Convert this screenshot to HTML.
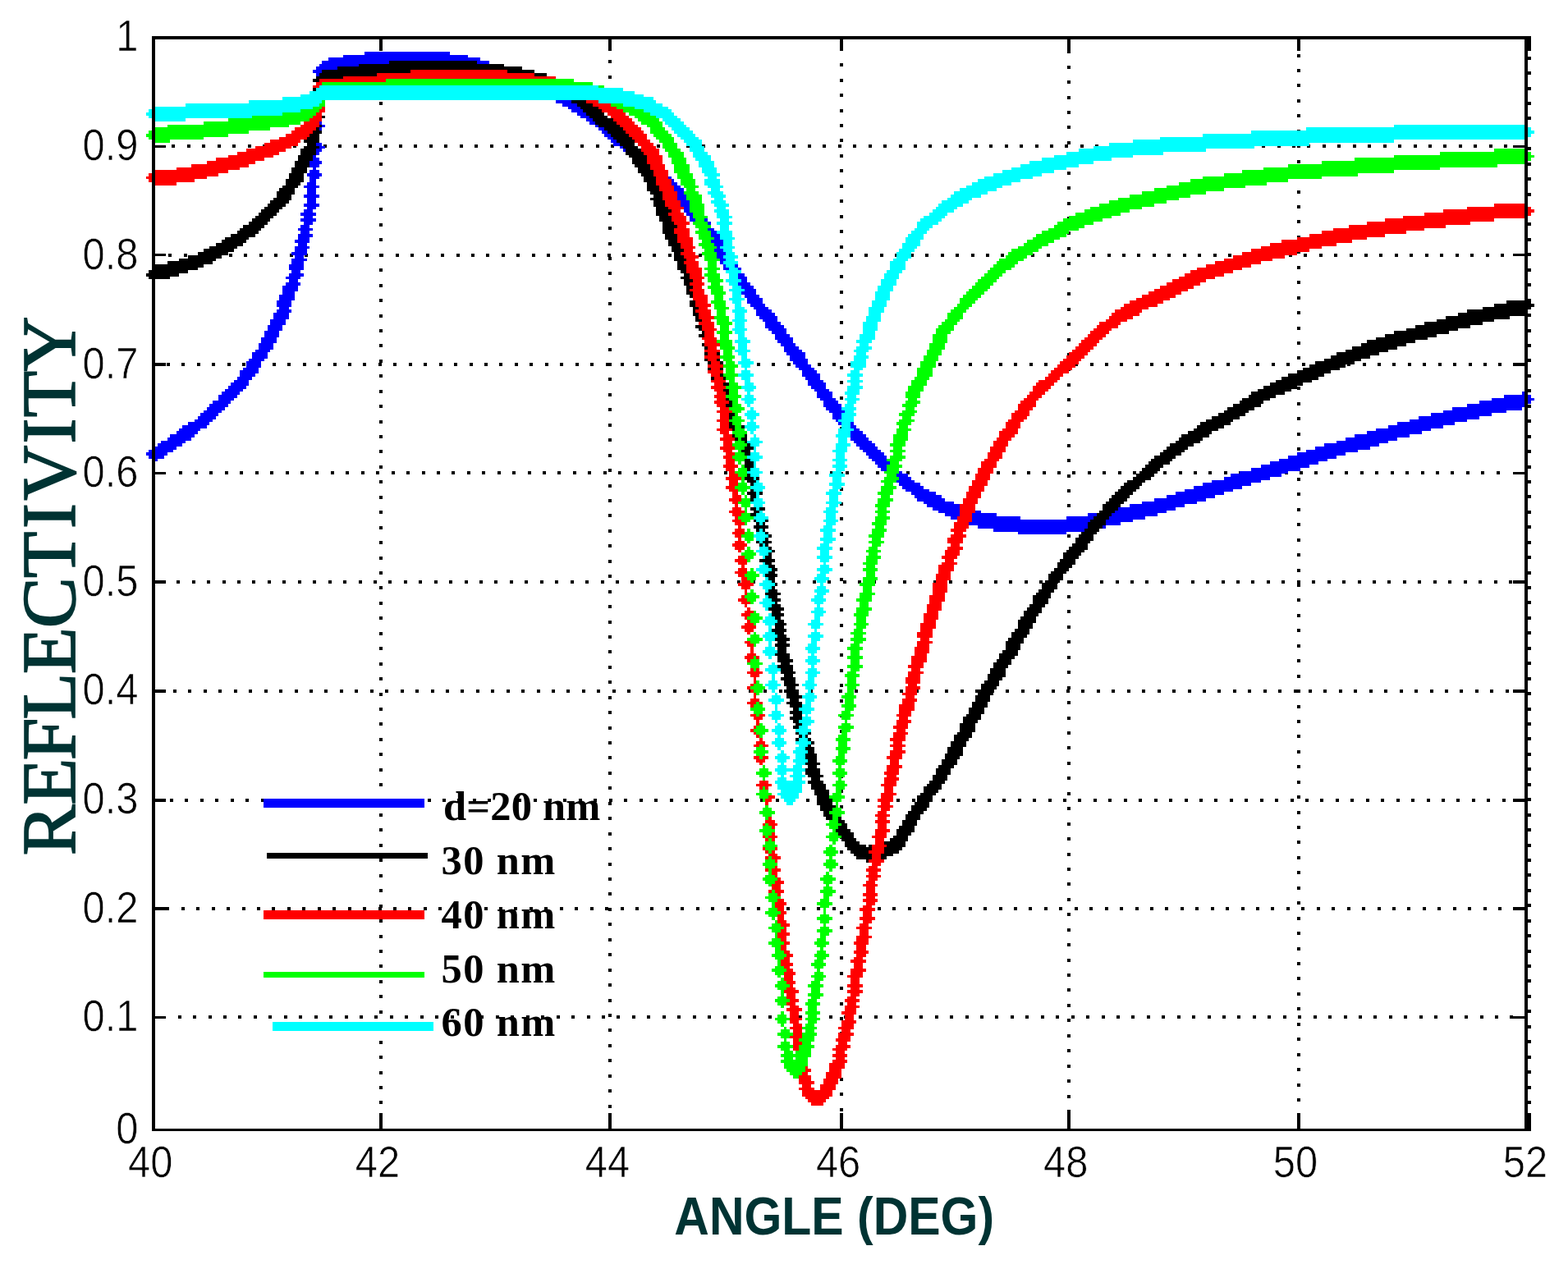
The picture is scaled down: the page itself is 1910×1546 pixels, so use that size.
<!DOCTYPE html>
<html lang="en"><head><meta charset="utf-8"><title>Reflectivity vs angle</title>
<style>html,body{margin:0;padding:0;background:#fff;overflow:hidden}svg{display:block}text{font-family:"Liberation Sans",sans-serif}.tk{font-size:54.0px;fill:#000;stroke:#fff;stroke-width:0.7px}.lg{font-family:"Liberation Serif",serif;font-weight:bold;font-size:50.5px;fill:#000}.xl{font-weight:bold;font-size:65.0px;fill:#003333}.yl{font-family:"Liberation Serif",serif;font-size:93.0px;fill:#003333;stroke:#003333;stroke-width:1.6px;stroke-linejoin:miter}</style></head><body>
<svg width="1910" height="1546" viewBox="0 0 1910 1546" role="img" aria-label="Reflectivity versus angle for metal film thickness d = 20 to 60 nm">
<rect width="1910" height="1546" fill="#fff"/>
<path shape-rendering="crispEdges" fill="#000" d="M461.5 69.0h4v4h-4zM461.5 87.4h4v4h-4zM461.5 105.9h4v4h-4zM461.5 124.3h4v4h-4zM461.5 142.8h4v4h-4zM461.5 161.2h4v4h-4zM461.5 179.6h4v4h-4zM461.5 198.1h4v4h-4zM461.5 216.5h4v4h-4zM461.5 235.0h4v4h-4zM461.5 253.4h4v4h-4zM461.5 271.8h4v4h-4zM461.5 290.3h4v4h-4zM461.5 308.7h4v4h-4zM461.5 327.2h4v4h-4zM461.5 345.6h4v4h-4zM461.5 364.0h4v4h-4zM461.5 382.5h4v4h-4zM461.5 400.9h4v4h-4zM461.5 419.4h4v4h-4zM461.5 437.8h4v4h-4zM461.5 456.2h4v4h-4zM461.5 474.7h4v4h-4zM461.5 493.1h4v4h-4zM461.5 511.6h4v4h-4zM461.5 530.0h4v4h-4zM461.5 548.4h4v4h-4zM461.5 566.9h4v4h-4zM461.5 585.3h4v4h-4zM461.5 603.8h4v4h-4zM461.5 622.2h4v4h-4zM461.5 640.6h4v4h-4zM461.5 659.1h4v4h-4zM461.5 677.5h4v4h-4zM461.5 696.0h4v4h-4zM461.5 714.4h4v4h-4zM461.5 732.8h4v4h-4zM461.5 751.3h4v4h-4zM461.5 769.7h4v4h-4zM461.5 788.2h4v4h-4zM461.5 806.6h4v4h-4zM461.5 825.0h4v4h-4zM461.5 843.5h4v4h-4zM461.5 861.9h4v4h-4zM461.5 880.4h4v4h-4zM461.5 898.8h4v4h-4zM461.5 917.2h4v4h-4zM461.5 935.7h4v4h-4zM461.5 954.1h4v4h-4zM461.5 972.6h4v4h-4zM461.5 991.0h4v4h-4zM461.5 1009.4h4v4h-4zM461.5 1027.9h4v4h-4zM461.5 1046.3h4v4h-4zM461.5 1064.8h4v4h-4zM461.5 1083.2h4v4h-4zM461.5 1101.6h4v4h-4zM461.5 1120.1h4v4h-4zM461.5 1138.5h4v4h-4zM461.5 1157.0h4v4h-4zM461.5 1175.4h4v4h-4zM461.5 1193.8h4v4h-4zM461.5 1212.3h4v4h-4zM461.5 1230.7h4v4h-4zM461.5 1249.2h4v4h-4zM461.5 1267.6h4v4h-4zM461.5 1286.0h4v4h-4zM461.5 1304.5h4v4h-4zM461.5 1322.9h4v4h-4zM461.5 1341.4h4v4h-4zM741.4 73.2h4v4h-4zM741.4 91.6h4v4h-4zM741.4 110.1h4v4h-4zM741.4 128.5h4v4h-4zM741.4 147.0h4v4h-4zM741.4 165.4h4v4h-4zM741.4 183.8h4v4h-4zM741.4 202.3h4v4h-4zM741.4 220.7h4v4h-4zM741.4 239.2h4v4h-4zM741.4 257.6h4v4h-4zM741.4 276.0h4v4h-4zM741.4 294.5h4v4h-4zM741.4 312.9h4v4h-4zM741.4 331.4h4v4h-4zM741.4 349.8h4v4h-4zM741.4 368.2h4v4h-4zM741.4 386.7h4v4h-4zM741.4 405.1h4v4h-4zM741.4 423.6h4v4h-4zM741.4 442.0h4v4h-4zM741.4 460.4h4v4h-4zM741.4 478.9h4v4h-4zM741.4 497.3h4v4h-4zM741.4 515.8h4v4h-4zM741.4 534.2h4v4h-4zM741.4 552.6h4v4h-4zM741.4 571.1h4v4h-4zM741.4 589.5h4v4h-4zM741.4 608.0h4v4h-4zM741.4 626.4h4v4h-4zM741.4 644.8h4v4h-4zM741.4 663.3h4v4h-4zM741.4 681.7h4v4h-4zM741.4 700.2h4v4h-4zM741.4 718.6h4v4h-4zM741.4 737.0h4v4h-4zM741.4 755.5h4v4h-4zM741.4 773.9h4v4h-4zM741.4 792.4h4v4h-4zM741.4 810.8h4v4h-4zM741.4 829.2h4v4h-4zM741.4 847.7h4v4h-4zM741.4 866.1h4v4h-4zM741.4 884.6h4v4h-4zM741.4 903.0h4v4h-4zM741.4 921.4h4v4h-4zM741.4 939.9h4v4h-4zM741.4 958.3h4v4h-4zM741.4 976.8h4v4h-4zM741.4 995.2h4v4h-4zM741.4 1013.6h4v4h-4zM741.4 1032.1h4v4h-4zM741.4 1050.5h4v4h-4zM741.4 1069.0h4v4h-4zM741.4 1087.4h4v4h-4zM741.4 1105.8h4v4h-4zM741.4 1124.3h4v4h-4zM741.4 1142.7h4v4h-4zM741.4 1161.2h4v4h-4zM741.4 1179.6h4v4h-4zM741.4 1198.0h4v4h-4zM741.4 1216.5h4v4h-4zM741.4 1234.9h4v4h-4zM741.4 1253.4h4v4h-4zM741.4 1271.8h4v4h-4zM741.4 1290.2h4v4h-4zM741.4 1308.7h4v4h-4zM741.4 1327.1h4v4h-4zM741.4 1345.6h4v4h-4zM1022.6 77.2h4v4h-4zM1022.6 95.6h4v4h-4zM1022.6 114.1h4v4h-4zM1022.6 132.5h4v4h-4zM1022.6 151.0h4v4h-4zM1022.6 169.4h4v4h-4zM1022.6 187.8h4v4h-4zM1022.6 206.3h4v4h-4zM1022.6 224.7h4v4h-4zM1022.6 243.2h4v4h-4zM1022.6 261.6h4v4h-4zM1022.6 280.0h4v4h-4zM1022.6 298.5h4v4h-4zM1022.6 316.9h4v4h-4zM1022.6 335.4h4v4h-4zM1022.6 353.8h4v4h-4zM1022.6 372.2h4v4h-4zM1022.6 390.7h4v4h-4zM1022.6 409.1h4v4h-4zM1022.6 427.6h4v4h-4zM1022.6 446.0h4v4h-4zM1022.6 464.4h4v4h-4zM1022.6 482.9h4v4h-4zM1022.6 501.3h4v4h-4zM1022.6 519.8h4v4h-4zM1022.6 538.2h4v4h-4zM1022.6 556.6h4v4h-4zM1022.6 575.1h4v4h-4zM1022.6 593.5h4v4h-4zM1022.6 612.0h4v4h-4zM1022.6 630.4h4v4h-4zM1022.6 648.8h4v4h-4zM1022.6 667.3h4v4h-4zM1022.6 685.7h4v4h-4zM1022.6 704.2h4v4h-4zM1022.6 722.6h4v4h-4zM1022.6 741.0h4v4h-4zM1022.6 759.5h4v4h-4zM1022.6 777.9h4v4h-4zM1022.6 796.4h4v4h-4zM1022.6 814.8h4v4h-4zM1022.6 833.2h4v4h-4zM1022.6 851.7h4v4h-4zM1022.6 870.1h4v4h-4zM1022.6 888.6h4v4h-4zM1022.6 907.0h4v4h-4zM1022.6 925.4h4v4h-4zM1022.6 943.9h4v4h-4zM1022.6 962.3h4v4h-4zM1022.6 980.8h4v4h-4zM1022.6 999.2h4v4h-4zM1022.6 1017.6h4v4h-4zM1022.6 1036.1h4v4h-4zM1022.6 1054.5h4v4h-4zM1022.6 1073.0h4v4h-4zM1022.6 1091.4h4v4h-4zM1022.6 1109.8h4v4h-4zM1022.6 1128.3h4v4h-4zM1022.6 1146.7h4v4h-4zM1022.6 1165.2h4v4h-4zM1022.6 1183.6h4v4h-4zM1022.6 1202.0h4v4h-4zM1022.6 1220.5h4v4h-4zM1022.6 1238.9h4v4h-4zM1022.6 1257.4h4v4h-4zM1022.6 1275.8h4v4h-4zM1022.6 1294.2h4v4h-4zM1022.6 1312.7h4v4h-4zM1022.6 1331.1h4v4h-4zM1022.6 1349.6h4v4h-4zM1299.7 61.2h4v4h-4zM1299.7 79.6h4v4h-4zM1299.7 98.0h4v4h-4zM1299.7 116.5h4v4h-4zM1299.7 134.9h4v4h-4zM1299.7 153.4h4v4h-4zM1299.7 171.8h4v4h-4zM1299.7 190.2h4v4h-4zM1299.7 208.7h4v4h-4zM1299.7 227.1h4v4h-4zM1299.7 245.6h4v4h-4zM1299.7 264.0h4v4h-4zM1299.7 282.4h4v4h-4zM1299.7 300.9h4v4h-4zM1299.7 319.3h4v4h-4zM1299.7 337.8h4v4h-4zM1299.7 356.2h4v4h-4zM1299.7 374.6h4v4h-4zM1299.7 393.1h4v4h-4zM1299.7 411.5h4v4h-4zM1299.7 430.0h4v4h-4zM1299.7 448.4h4v4h-4zM1299.7 466.8h4v4h-4zM1299.7 485.3h4v4h-4zM1299.7 503.7h4v4h-4zM1299.7 522.2h4v4h-4zM1299.7 540.6h4v4h-4zM1299.7 559.0h4v4h-4zM1299.7 577.5h4v4h-4zM1299.7 595.9h4v4h-4zM1299.7 614.4h4v4h-4zM1299.7 632.8h4v4h-4zM1299.7 651.2h4v4h-4zM1299.7 669.7h4v4h-4zM1299.7 688.1h4v4h-4zM1299.7 706.6h4v4h-4zM1299.7 725.0h4v4h-4zM1299.7 743.4h4v4h-4zM1299.7 761.9h4v4h-4zM1299.7 780.3h4v4h-4zM1299.7 798.8h4v4h-4zM1299.7 817.2h4v4h-4zM1299.7 835.6h4v4h-4zM1299.7 854.1h4v4h-4zM1299.7 872.5h4v4h-4zM1299.7 891.0h4v4h-4zM1299.7 909.4h4v4h-4zM1299.7 927.8h4v4h-4zM1299.7 946.3h4v4h-4zM1299.7 964.7h4v4h-4zM1299.7 983.2h4v4h-4zM1299.7 1001.6h4v4h-4zM1299.7 1020.0h4v4h-4zM1299.7 1038.5h4v4h-4zM1299.7 1056.9h4v4h-4zM1299.7 1075.4h4v4h-4zM1299.7 1093.8h4v4h-4zM1299.7 1112.2h4v4h-4zM1299.7 1130.7h4v4h-4zM1299.7 1149.1h4v4h-4zM1299.7 1167.6h4v4h-4zM1299.7 1186.0h4v4h-4zM1299.7 1204.4h4v4h-4zM1299.7 1222.9h4v4h-4zM1299.7 1241.3h4v4h-4zM1299.7 1259.8h4v4h-4zM1299.7 1278.2h4v4h-4zM1299.7 1296.6h4v4h-4zM1299.7 1315.1h4v4h-4zM1299.7 1333.5h4v4h-4zM1299.7 1352.0h4v4h-4zM1579.5 65.6h4v4h-4zM1579.5 84.0h4v4h-4zM1579.5 102.4h4v4h-4zM1579.5 120.9h4v4h-4zM1579.5 139.3h4v4h-4zM1579.5 157.8h4v4h-4zM1579.5 176.2h4v4h-4zM1579.5 194.6h4v4h-4zM1579.5 213.1h4v4h-4zM1579.5 231.5h4v4h-4zM1579.5 250.0h4v4h-4zM1579.5 268.4h4v4h-4zM1579.5 286.8h4v4h-4zM1579.5 305.3h4v4h-4zM1579.5 323.7h4v4h-4zM1579.5 342.2h4v4h-4zM1579.5 360.6h4v4h-4zM1579.5 379.0h4v4h-4zM1579.5 397.5h4v4h-4zM1579.5 415.9h4v4h-4zM1579.5 434.4h4v4h-4zM1579.5 452.8h4v4h-4zM1579.5 471.2h4v4h-4zM1579.5 489.7h4v4h-4zM1579.5 508.1h4v4h-4zM1579.5 526.6h4v4h-4zM1579.5 545.0h4v4h-4zM1579.5 563.4h4v4h-4zM1579.5 581.9h4v4h-4zM1579.5 600.3h4v4h-4zM1579.5 618.8h4v4h-4zM1579.5 637.2h4v4h-4zM1579.5 655.6h4v4h-4zM1579.5 674.1h4v4h-4zM1579.5 692.5h4v4h-4zM1579.5 711.0h4v4h-4zM1579.5 729.4h4v4h-4zM1579.5 747.8h4v4h-4zM1579.5 766.3h4v4h-4zM1579.5 784.7h4v4h-4zM1579.5 803.2h4v4h-4zM1579.5 821.6h4v4h-4zM1579.5 840.0h4v4h-4zM1579.5 858.5h4v4h-4zM1579.5 876.9h4v4h-4zM1579.5 895.4h4v4h-4zM1579.5 913.8h4v4h-4zM1579.5 932.2h4v4h-4zM1579.5 950.7h4v4h-4zM1579.5 969.1h4v4h-4zM1579.5 987.6h4v4h-4zM1579.5 1006.0h4v4h-4zM1579.5 1024.4h4v4h-4zM1579.5 1042.9h4v4h-4zM1579.5 1061.3h4v4h-4zM1579.5 1079.8h4v4h-4zM1579.5 1098.2h4v4h-4zM1579.5 1116.6h4v4h-4zM1579.5 1135.1h4v4h-4zM1579.5 1153.5h4v4h-4zM1579.5 1172.0h4v4h-4zM1579.5 1190.4h4v4h-4zM1579.5 1208.8h4v4h-4zM1579.5 1227.3h4v4h-4zM1579.5 1245.7h4v4h-4zM1579.5 1264.2h4v4h-4zM1579.5 1282.6h4v4h-4zM1579.5 1301.0h4v4h-4zM1579.5 1319.5h4v4h-4zM1579.5 1337.9h4v4h-4zM1860.8 68.6h4v4h-4zM1860.8 87.0h4v4h-4zM1860.8 105.5h4v4h-4zM1860.8 123.9h4v4h-4zM1860.8 142.4h4v4h-4zM1860.8 160.8h4v4h-4zM1860.8 179.2h4v4h-4zM1860.8 197.7h4v4h-4zM1860.8 216.1h4v4h-4zM1860.8 234.6h4v4h-4zM1860.8 253.0h4v4h-4zM1860.8 271.4h4v4h-4zM1860.8 289.9h4v4h-4zM1860.8 308.3h4v4h-4zM1860.8 326.8h4v4h-4zM1860.8 345.2h4v4h-4zM1860.8 363.6h4v4h-4zM1860.8 382.1h4v4h-4zM1860.8 400.5h4v4h-4zM1860.8 419.0h4v4h-4zM1860.8 437.4h4v4h-4zM1860.8 455.8h4v4h-4zM1860.8 474.3h4v4h-4zM1860.8 492.7h4v4h-4zM1860.8 511.2h4v4h-4zM1860.8 529.6h4v4h-4zM1860.8 548.0h4v4h-4zM1860.8 566.5h4v4h-4zM1860.8 584.9h4v4h-4zM1860.8 603.4h4v4h-4zM1860.8 621.8h4v4h-4zM1860.8 640.2h4v4h-4zM1860.8 658.7h4v4h-4zM1860.8 677.1h4v4h-4zM1860.8 695.6h4v4h-4zM1860.8 714.0h4v4h-4zM1860.8 732.4h4v4h-4zM1860.8 750.9h4v4h-4zM1860.8 769.3h4v4h-4zM1860.8 787.8h4v4h-4zM1860.8 806.2h4v4h-4zM1860.8 824.6h4v4h-4zM1860.8 843.1h4v4h-4zM1860.8 861.5h4v4h-4zM1860.8 880.0h4v4h-4zM1860.8 898.4h4v4h-4zM1860.8 916.8h4v4h-4zM1860.8 935.3h4v4h-4zM1860.8 953.7h4v4h-4zM1860.8 972.2h4v4h-4zM1860.8 990.6h4v4h-4zM1860.8 1009.0h4v4h-4zM1860.8 1027.5h4v4h-4zM1860.8 1045.9h4v4h-4zM1860.8 1064.4h4v4h-4zM1860.8 1082.8h4v4h-4zM1860.8 1101.2h4v4h-4zM1860.8 1119.7h4v4h-4zM1860.8 1138.1h4v4h-4zM1860.8 1156.6h4v4h-4zM1860.8 1175.0h4v4h-4zM1860.8 1193.4h4v4h-4zM1860.8 1211.9h4v4h-4zM1860.8 1230.3h4v4h-4zM1860.8 1248.8h4v4h-4zM1860.8 1267.2h4v4h-4zM1860.8 1285.6h4v4h-4zM1860.8 1304.1h4v4h-4zM1860.8 1322.5h4v4h-4zM1860.8 1341.0h4v4h-4zM216.6 1237.4h4v4h-4zM235.1 1237.4h4v4h-4zM253.5 1237.4h4v4h-4zM272.0 1237.4h4v4h-4zM290.4 1237.4h4v4h-4zM308.8 1237.4h4v4h-4zM327.3 1237.4h4v4h-4zM345.7 1237.4h4v4h-4zM364.2 1237.4h4v4h-4zM382.6 1237.4h4v4h-4zM401.0 1237.4h4v4h-4zM419.5 1237.4h4v4h-4zM437.9 1237.4h4v4h-4zM456.4 1237.4h4v4h-4zM474.8 1237.4h4v4h-4zM493.2 1237.4h4v4h-4zM511.7 1237.4h4v4h-4zM530.1 1237.4h4v4h-4zM548.6 1237.4h4v4h-4zM567.0 1237.4h4v4h-4zM585.4 1237.4h4v4h-4zM603.9 1237.4h4v4h-4zM622.3 1237.4h4v4h-4zM640.8 1237.4h4v4h-4zM659.2 1237.4h4v4h-4zM677.6 1237.4h4v4h-4zM696.1 1237.4h4v4h-4zM714.5 1237.4h4v4h-4zM733.0 1237.4h4v4h-4zM751.4 1237.4h4v4h-4zM769.8 1237.4h4v4h-4zM788.3 1237.4h4v4h-4zM806.7 1237.4h4v4h-4zM825.2 1237.4h4v4h-4zM843.6 1237.4h4v4h-4zM862.0 1237.4h4v4h-4zM880.5 1237.4h4v4h-4zM898.9 1237.4h4v4h-4zM917.4 1237.4h4v4h-4zM935.8 1237.4h4v4h-4zM954.2 1237.4h4v4h-4zM972.7 1237.4h4v4h-4zM991.1 1237.4h4v4h-4zM1009.6 1237.4h4v4h-4zM1028.0 1237.4h4v4h-4zM1046.4 1237.4h4v4h-4zM1064.9 1237.4h4v4h-4zM1083.3 1237.4h4v4h-4zM1101.8 1237.4h4v4h-4zM1120.2 1237.4h4v4h-4zM1138.6 1237.4h4v4h-4zM1157.1 1237.4h4v4h-4zM1175.5 1237.4h4v4h-4zM1194.0 1237.4h4v4h-4zM1212.4 1237.4h4v4h-4zM1230.8 1237.4h4v4h-4zM1249.3 1237.4h4v4h-4zM1267.7 1237.4h4v4h-4zM1286.2 1237.4h4v4h-4zM1304.6 1237.4h4v4h-4zM1323.0 1237.4h4v4h-4zM1341.5 1237.4h4v4h-4zM1359.9 1237.4h4v4h-4zM1378.4 1237.4h4v4h-4zM1396.8 1237.4h4v4h-4zM1415.2 1237.4h4v4h-4zM1433.7 1237.4h4v4h-4zM1452.1 1237.4h4v4h-4zM1470.6 1237.4h4v4h-4zM1489.0 1237.4h4v4h-4zM1507.4 1237.4h4v4h-4zM1525.9 1237.4h4v4h-4zM1544.3 1237.4h4v4h-4zM1562.8 1237.4h4v4h-4zM1581.2 1237.4h4v4h-4zM1599.6 1237.4h4v4h-4zM1618.1 1237.4h4v4h-4zM1636.5 1237.4h4v4h-4zM1655.0 1237.4h4v4h-4zM1673.4 1237.4h4v4h-4zM1691.8 1237.4h4v4h-4zM1710.3 1237.4h4v4h-4zM1728.7 1237.4h4v4h-4zM1747.2 1237.4h4v4h-4zM1765.6 1237.4h4v4h-4zM1784.0 1237.4h4v4h-4zM1802.5 1237.4h4v4h-4zM1820.9 1237.4h4v4h-4zM1839.4 1237.4h4v4h-4zM202.3 1104.7h4v4h-4zM220.7 1104.7h4v4h-4zM239.2 1104.7h4v4h-4zM257.6 1104.7h4v4h-4zM276.1 1104.7h4v4h-4zM294.5 1104.7h4v4h-4zM312.9 1104.7h4v4h-4zM331.4 1104.7h4v4h-4zM349.8 1104.7h4v4h-4zM368.3 1104.7h4v4h-4zM386.7 1104.7h4v4h-4zM405.1 1104.7h4v4h-4zM423.6 1104.7h4v4h-4zM442.0 1104.7h4v4h-4zM460.5 1104.7h4v4h-4zM478.9 1104.7h4v4h-4zM497.3 1104.7h4v4h-4zM515.8 1104.7h4v4h-4zM534.2 1104.7h4v4h-4zM552.7 1104.7h4v4h-4zM571.1 1104.7h4v4h-4zM589.5 1104.7h4v4h-4zM608.0 1104.7h4v4h-4zM626.4 1104.7h4v4h-4zM644.9 1104.7h4v4h-4zM663.3 1104.7h4v4h-4zM681.7 1104.7h4v4h-4zM700.2 1104.7h4v4h-4zM718.6 1104.7h4v4h-4zM737.1 1104.7h4v4h-4zM755.5 1104.7h4v4h-4zM773.9 1104.7h4v4h-4zM792.4 1104.7h4v4h-4zM810.8 1104.7h4v4h-4zM829.3 1104.7h4v4h-4zM847.7 1104.7h4v4h-4zM866.1 1104.7h4v4h-4zM884.6 1104.7h4v4h-4zM903.0 1104.7h4v4h-4zM921.5 1104.7h4v4h-4zM939.9 1104.7h4v4h-4zM958.3 1104.7h4v4h-4zM976.8 1104.7h4v4h-4zM995.2 1104.7h4v4h-4zM1013.7 1104.7h4v4h-4zM1032.1 1104.7h4v4h-4zM1050.5 1104.7h4v4h-4zM1069.0 1104.7h4v4h-4zM1087.4 1104.7h4v4h-4zM1105.9 1104.7h4v4h-4zM1124.3 1104.7h4v4h-4zM1142.7 1104.7h4v4h-4zM1161.2 1104.7h4v4h-4zM1179.6 1104.7h4v4h-4zM1198.1 1104.7h4v4h-4zM1216.5 1104.7h4v4h-4zM1234.9 1104.7h4v4h-4zM1253.4 1104.7h4v4h-4zM1271.8 1104.7h4v4h-4zM1290.3 1104.7h4v4h-4zM1308.7 1104.7h4v4h-4zM1327.1 1104.7h4v4h-4zM1345.6 1104.7h4v4h-4zM1364.0 1104.7h4v4h-4zM1382.5 1104.7h4v4h-4zM1400.9 1104.7h4v4h-4zM1419.3 1104.7h4v4h-4zM1437.8 1104.7h4v4h-4zM1456.2 1104.7h4v4h-4zM1474.7 1104.7h4v4h-4zM1493.1 1104.7h4v4h-4zM1511.5 1104.7h4v4h-4zM1530.0 1104.7h4v4h-4zM1548.4 1104.7h4v4h-4zM1566.9 1104.7h4v4h-4zM1585.3 1104.7h4v4h-4zM1603.7 1104.7h4v4h-4zM1622.2 1104.7h4v4h-4zM1640.6 1104.7h4v4h-4zM1659.1 1104.7h4v4h-4zM1677.5 1104.7h4v4h-4zM1695.9 1104.7h4v4h-4zM1714.4 1104.7h4v4h-4zM1732.8 1104.7h4v4h-4zM1751.3 1104.7h4v4h-4zM1769.7 1104.7h4v4h-4zM1788.1 1104.7h4v4h-4zM1806.6 1104.7h4v4h-4zM1825.0 1104.7h4v4h-4zM207.0 972.6h4v4h-4zM225.4 972.6h4v4h-4zM243.9 972.6h4v4h-4zM262.3 972.6h4v4h-4zM280.8 972.6h4v4h-4zM299.2 972.6h4v4h-4zM317.6 972.6h4v4h-4zM336.1 972.6h4v4h-4zM354.5 972.6h4v4h-4zM373.0 972.6h4v4h-4zM391.4 972.6h4v4h-4zM409.8 972.6h4v4h-4zM428.3 972.6h4v4h-4zM446.7 972.6h4v4h-4zM465.2 972.6h4v4h-4zM483.6 972.6h4v4h-4zM502.0 972.6h4v4h-4zM520.5 972.6h4v4h-4zM538.9 972.6h4v4h-4zM557.4 972.6h4v4h-4zM575.8 972.6h4v4h-4zM594.2 972.6h4v4h-4zM612.7 972.6h4v4h-4zM631.1 972.6h4v4h-4zM649.6 972.6h4v4h-4zM668.0 972.6h4v4h-4zM686.4 972.6h4v4h-4zM704.9 972.6h4v4h-4zM723.3 972.6h4v4h-4zM741.8 972.6h4v4h-4zM760.2 972.6h4v4h-4zM778.6 972.6h4v4h-4zM797.1 972.6h4v4h-4zM815.5 972.6h4v4h-4zM834.0 972.6h4v4h-4zM852.4 972.6h4v4h-4zM870.8 972.6h4v4h-4zM889.3 972.6h4v4h-4zM907.7 972.6h4v4h-4zM926.2 972.6h4v4h-4zM944.6 972.6h4v4h-4zM963.0 972.6h4v4h-4zM981.5 972.6h4v4h-4zM999.9 972.6h4v4h-4zM1018.4 972.6h4v4h-4zM1036.8 972.6h4v4h-4zM1055.2 972.6h4v4h-4zM1073.7 972.6h4v4h-4zM1092.1 972.6h4v4h-4zM1110.6 972.6h4v4h-4zM1129.0 972.6h4v4h-4zM1147.4 972.6h4v4h-4zM1165.9 972.6h4v4h-4zM1184.3 972.6h4v4h-4zM1202.8 972.6h4v4h-4zM1221.2 972.6h4v4h-4zM1239.6 972.6h4v4h-4zM1258.1 972.6h4v4h-4zM1276.5 972.6h4v4h-4zM1295.0 972.6h4v4h-4zM1313.4 972.6h4v4h-4zM1331.8 972.6h4v4h-4zM1350.3 972.6h4v4h-4zM1368.7 972.6h4v4h-4zM1387.2 972.6h4v4h-4zM1405.6 972.6h4v4h-4zM1424.0 972.6h4v4h-4zM1442.5 972.6h4v4h-4zM1460.9 972.6h4v4h-4zM1479.4 972.6h4v4h-4zM1497.8 972.6h4v4h-4zM1516.2 972.6h4v4h-4zM1534.7 972.6h4v4h-4zM1553.1 972.6h4v4h-4zM1571.6 972.6h4v4h-4zM1590.0 972.6h4v4h-4zM1608.4 972.6h4v4h-4zM1626.9 972.6h4v4h-4zM1645.3 972.6h4v4h-4zM1663.8 972.6h4v4h-4zM1682.2 972.6h4v4h-4zM1700.6 972.6h4v4h-4zM1719.1 972.6h4v4h-4zM1737.5 972.6h4v4h-4zM1756.0 972.6h4v4h-4zM1774.4 972.6h4v4h-4zM1792.8 972.6h4v4h-4zM1811.3 972.6h4v4h-4zM1829.7 972.6h4v4h-4zM211.0 839.5h4v4h-4zM229.4 839.5h4v4h-4zM247.9 839.5h4v4h-4zM266.3 839.5h4v4h-4zM284.8 839.5h4v4h-4zM303.2 839.5h4v4h-4zM321.6 839.5h4v4h-4zM340.1 839.5h4v4h-4zM358.5 839.5h4v4h-4zM377.0 839.5h4v4h-4zM395.4 839.5h4v4h-4zM413.8 839.5h4v4h-4zM432.3 839.5h4v4h-4zM450.7 839.5h4v4h-4zM469.2 839.5h4v4h-4zM487.6 839.5h4v4h-4zM506.0 839.5h4v4h-4zM524.5 839.5h4v4h-4zM542.9 839.5h4v4h-4zM561.4 839.5h4v4h-4zM579.8 839.5h4v4h-4zM598.2 839.5h4v4h-4zM616.7 839.5h4v4h-4zM635.1 839.5h4v4h-4zM653.6 839.5h4v4h-4zM672.0 839.5h4v4h-4zM690.4 839.5h4v4h-4zM708.9 839.5h4v4h-4zM727.3 839.5h4v4h-4zM745.8 839.5h4v4h-4zM764.2 839.5h4v4h-4zM782.6 839.5h4v4h-4zM801.1 839.5h4v4h-4zM819.5 839.5h4v4h-4zM838.0 839.5h4v4h-4zM856.4 839.5h4v4h-4zM874.8 839.5h4v4h-4zM893.3 839.5h4v4h-4zM911.7 839.5h4v4h-4zM930.2 839.5h4v4h-4zM948.6 839.5h4v4h-4zM967.0 839.5h4v4h-4zM985.5 839.5h4v4h-4zM1003.9 839.5h4v4h-4zM1022.4 839.5h4v4h-4zM1040.8 839.5h4v4h-4zM1059.2 839.5h4v4h-4zM1077.7 839.5h4v4h-4zM1096.1 839.5h4v4h-4zM1114.6 839.5h4v4h-4zM1133.0 839.5h4v4h-4zM1151.4 839.5h4v4h-4zM1169.9 839.5h4v4h-4zM1188.3 839.5h4v4h-4zM1206.8 839.5h4v4h-4zM1225.2 839.5h4v4h-4zM1243.6 839.5h4v4h-4zM1262.1 839.5h4v4h-4zM1280.5 839.5h4v4h-4zM1299.0 839.5h4v4h-4zM1317.4 839.5h4v4h-4zM1335.8 839.5h4v4h-4zM1354.3 839.5h4v4h-4zM1372.7 839.5h4v4h-4zM1391.2 839.5h4v4h-4zM1409.6 839.5h4v4h-4zM1428.0 839.5h4v4h-4zM1446.5 839.5h4v4h-4zM1464.9 839.5h4v4h-4zM1483.4 839.5h4v4h-4zM1501.8 839.5h4v4h-4zM1520.2 839.5h4v4h-4zM1538.7 839.5h4v4h-4zM1557.1 839.5h4v4h-4zM1575.6 839.5h4v4h-4zM1594.0 839.5h4v4h-4zM1612.4 839.5h4v4h-4zM1630.9 839.5h4v4h-4zM1649.3 839.5h4v4h-4zM1667.8 839.5h4v4h-4zM1686.2 839.5h4v4h-4zM1704.6 839.5h4v4h-4zM1723.1 839.5h4v4h-4zM1741.5 839.5h4v4h-4zM1760.0 839.5h4v4h-4zM1778.4 839.5h4v4h-4zM1796.8 839.5h4v4h-4zM1815.3 839.5h4v4h-4zM1833.7 839.5h4v4h-4zM215.2 707.1h4v4h-4zM233.6 707.1h4v4h-4zM252.1 707.1h4v4h-4zM270.5 707.1h4v4h-4zM289.0 707.1h4v4h-4zM307.4 707.1h4v4h-4zM325.8 707.1h4v4h-4zM344.3 707.1h4v4h-4zM362.7 707.1h4v4h-4zM381.2 707.1h4v4h-4zM399.6 707.1h4v4h-4zM418.0 707.1h4v4h-4zM436.5 707.1h4v4h-4zM454.9 707.1h4v4h-4zM473.4 707.1h4v4h-4zM491.8 707.1h4v4h-4zM510.2 707.1h4v4h-4zM528.7 707.1h4v4h-4zM547.1 707.1h4v4h-4zM565.6 707.1h4v4h-4zM584.0 707.1h4v4h-4zM602.4 707.1h4v4h-4zM620.9 707.1h4v4h-4zM639.3 707.1h4v4h-4zM657.8 707.1h4v4h-4zM676.2 707.1h4v4h-4zM694.6 707.1h4v4h-4zM713.1 707.1h4v4h-4zM731.5 707.1h4v4h-4zM750.0 707.1h4v4h-4zM768.4 707.1h4v4h-4zM786.8 707.1h4v4h-4zM805.3 707.1h4v4h-4zM823.7 707.1h4v4h-4zM842.2 707.1h4v4h-4zM860.6 707.1h4v4h-4zM879.0 707.1h4v4h-4zM897.5 707.1h4v4h-4zM915.9 707.1h4v4h-4zM934.4 707.1h4v4h-4zM952.8 707.1h4v4h-4zM971.2 707.1h4v4h-4zM989.7 707.1h4v4h-4zM1008.1 707.1h4v4h-4zM1026.6 707.1h4v4h-4zM1045.0 707.1h4v4h-4zM1063.4 707.1h4v4h-4zM1081.9 707.1h4v4h-4zM1100.3 707.1h4v4h-4zM1118.8 707.1h4v4h-4zM1137.2 707.1h4v4h-4zM1155.6 707.1h4v4h-4zM1174.1 707.1h4v4h-4zM1192.5 707.1h4v4h-4zM1211.0 707.1h4v4h-4zM1229.4 707.1h4v4h-4zM1247.8 707.1h4v4h-4zM1266.3 707.1h4v4h-4zM1284.7 707.1h4v4h-4zM1303.2 707.1h4v4h-4zM1321.6 707.1h4v4h-4zM1340.0 707.1h4v4h-4zM1358.5 707.1h4v4h-4zM1376.9 707.1h4v4h-4zM1395.4 707.1h4v4h-4zM1413.8 707.1h4v4h-4zM1432.2 707.1h4v4h-4zM1450.7 707.1h4v4h-4zM1469.1 707.1h4v4h-4zM1487.6 707.1h4v4h-4zM1506.0 707.1h4v4h-4zM1524.4 707.1h4v4h-4zM1542.9 707.1h4v4h-4zM1561.3 707.1h4v4h-4zM1579.8 707.1h4v4h-4zM1598.2 707.1h4v4h-4zM1616.6 707.1h4v4h-4zM1635.1 707.1h4v4h-4zM1653.5 707.1h4v4h-4zM1672.0 707.1h4v4h-4zM1690.4 707.1h4v4h-4zM1708.8 707.1h4v4h-4zM1727.3 707.1h4v4h-4zM1745.7 707.1h4v4h-4zM1764.2 707.1h4v4h-4zM1782.6 707.1h4v4h-4zM1801.0 707.1h4v4h-4zM1819.5 707.1h4v4h-4zM1837.9 707.1h4v4h-4zM218.4 574.1h4v4h-4zM236.9 574.1h4v4h-4zM255.3 574.1h4v4h-4zM273.8 574.1h4v4h-4zM292.2 574.1h4v4h-4zM310.6 574.1h4v4h-4zM329.1 574.1h4v4h-4zM347.5 574.1h4v4h-4zM366.0 574.1h4v4h-4zM384.4 574.1h4v4h-4zM402.8 574.1h4v4h-4zM421.3 574.1h4v4h-4zM439.7 574.1h4v4h-4zM458.2 574.1h4v4h-4zM476.6 574.1h4v4h-4zM495.0 574.1h4v4h-4zM513.5 574.1h4v4h-4zM531.9 574.1h4v4h-4zM550.4 574.1h4v4h-4zM568.8 574.1h4v4h-4zM587.2 574.1h4v4h-4zM605.7 574.1h4v4h-4zM624.1 574.1h4v4h-4zM642.6 574.1h4v4h-4zM661.0 574.1h4v4h-4zM679.4 574.1h4v4h-4zM697.9 574.1h4v4h-4zM716.3 574.1h4v4h-4zM734.8 574.1h4v4h-4zM753.2 574.1h4v4h-4zM771.6 574.1h4v4h-4zM790.1 574.1h4v4h-4zM808.5 574.1h4v4h-4zM827.0 574.1h4v4h-4zM845.4 574.1h4v4h-4zM863.8 574.1h4v4h-4zM882.3 574.1h4v4h-4zM900.7 574.1h4v4h-4zM919.2 574.1h4v4h-4zM937.6 574.1h4v4h-4zM956.0 574.1h4v4h-4zM974.5 574.1h4v4h-4zM992.9 574.1h4v4h-4zM1011.4 574.1h4v4h-4zM1029.8 574.1h4v4h-4zM1048.2 574.1h4v4h-4zM1066.7 574.1h4v4h-4zM1085.1 574.1h4v4h-4zM1103.6 574.1h4v4h-4zM1122.0 574.1h4v4h-4zM1140.4 574.1h4v4h-4zM1158.9 574.1h4v4h-4zM1177.3 574.1h4v4h-4zM1195.8 574.1h4v4h-4zM1214.2 574.1h4v4h-4zM1232.6 574.1h4v4h-4zM1251.1 574.1h4v4h-4zM1269.5 574.1h4v4h-4zM1288.0 574.1h4v4h-4zM1306.4 574.1h4v4h-4zM1324.8 574.1h4v4h-4zM1343.3 574.1h4v4h-4zM1361.7 574.1h4v4h-4zM1380.2 574.1h4v4h-4zM1398.6 574.1h4v4h-4zM1417.0 574.1h4v4h-4zM1435.5 574.1h4v4h-4zM1453.9 574.1h4v4h-4zM1472.4 574.1h4v4h-4zM1490.8 574.1h4v4h-4zM1509.2 574.1h4v4h-4zM1527.7 574.1h4v4h-4zM1546.1 574.1h4v4h-4zM1564.6 574.1h4v4h-4zM1583.0 574.1h4v4h-4zM1601.4 574.1h4v4h-4zM1619.9 574.1h4v4h-4zM1638.3 574.1h4v4h-4zM1656.8 574.1h4v4h-4zM1675.2 574.1h4v4h-4zM1693.6 574.1h4v4h-4zM1712.1 574.1h4v4h-4zM1730.5 574.1h4v4h-4zM1749.0 574.1h4v4h-4zM1767.4 574.1h4v4h-4zM1785.8 574.1h4v4h-4zM1804.3 574.1h4v4h-4zM1822.7 574.1h4v4h-4zM202.7 441.8h4v4h-4zM221.1 441.8h4v4h-4zM239.6 441.8h4v4h-4zM258.0 441.8h4v4h-4zM276.5 441.8h4v4h-4zM294.9 441.8h4v4h-4zM313.3 441.8h4v4h-4zM331.8 441.8h4v4h-4zM350.2 441.8h4v4h-4zM368.7 441.8h4v4h-4zM387.1 441.8h4v4h-4zM405.5 441.8h4v4h-4zM424.0 441.8h4v4h-4zM442.4 441.8h4v4h-4zM460.9 441.8h4v4h-4zM479.3 441.8h4v4h-4zM497.7 441.8h4v4h-4zM516.2 441.8h4v4h-4zM534.6 441.8h4v4h-4zM553.1 441.8h4v4h-4zM571.5 441.8h4v4h-4zM589.9 441.8h4v4h-4zM608.4 441.8h4v4h-4zM626.8 441.8h4v4h-4zM645.3 441.8h4v4h-4zM663.7 441.8h4v4h-4zM682.1 441.8h4v4h-4zM700.6 441.8h4v4h-4zM719.0 441.8h4v4h-4zM737.5 441.8h4v4h-4zM755.9 441.8h4v4h-4zM774.3 441.8h4v4h-4zM792.8 441.8h4v4h-4zM811.2 441.8h4v4h-4zM829.7 441.8h4v4h-4zM848.1 441.8h4v4h-4zM866.5 441.8h4v4h-4zM885.0 441.8h4v4h-4zM903.4 441.8h4v4h-4zM921.9 441.8h4v4h-4zM940.3 441.8h4v4h-4zM958.7 441.8h4v4h-4zM977.2 441.8h4v4h-4zM995.6 441.8h4v4h-4zM1014.1 441.8h4v4h-4zM1032.5 441.8h4v4h-4zM1050.9 441.8h4v4h-4zM1069.4 441.8h4v4h-4zM1087.8 441.8h4v4h-4zM1106.3 441.8h4v4h-4zM1124.7 441.8h4v4h-4zM1143.1 441.8h4v4h-4zM1161.6 441.8h4v4h-4zM1180.0 441.8h4v4h-4zM1198.5 441.8h4v4h-4zM1216.9 441.8h4v4h-4zM1235.3 441.8h4v4h-4zM1253.8 441.8h4v4h-4zM1272.2 441.8h4v4h-4zM1290.7 441.8h4v4h-4zM1309.1 441.8h4v4h-4zM1327.5 441.8h4v4h-4zM1346.0 441.8h4v4h-4zM1364.4 441.8h4v4h-4zM1382.9 441.8h4v4h-4zM1401.3 441.8h4v4h-4zM1419.7 441.8h4v4h-4zM1438.2 441.8h4v4h-4zM1456.6 441.8h4v4h-4zM1475.1 441.8h4v4h-4zM1493.5 441.8h4v4h-4zM1511.9 441.8h4v4h-4zM1530.4 441.8h4v4h-4zM1548.8 441.8h4v4h-4zM1567.3 441.8h4v4h-4zM1585.7 441.8h4v4h-4zM1604.1 441.8h4v4h-4zM1622.6 441.8h4v4h-4zM1641.0 441.8h4v4h-4zM1659.5 441.8h4v4h-4zM1677.9 441.8h4v4h-4zM1696.3 441.8h4v4h-4zM1714.8 441.8h4v4h-4zM1733.2 441.8h4v4h-4zM1751.7 441.8h4v4h-4zM1770.1 441.8h4v4h-4zM1788.5 441.8h4v4h-4zM1807.0 441.8h4v4h-4zM1825.4 441.8h4v4h-4zM205.2 308.8h4v4h-4zM223.6 308.8h4v4h-4zM242.1 308.8h4v4h-4zM260.5 308.8h4v4h-4zM279.0 308.8h4v4h-4zM297.4 308.8h4v4h-4zM315.8 308.8h4v4h-4zM334.3 308.8h4v4h-4zM352.7 308.8h4v4h-4zM371.2 308.8h4v4h-4zM389.6 308.8h4v4h-4zM408.0 308.8h4v4h-4zM426.5 308.8h4v4h-4zM444.9 308.8h4v4h-4zM463.4 308.8h4v4h-4zM481.8 308.8h4v4h-4zM500.2 308.8h4v4h-4zM518.7 308.8h4v4h-4zM537.1 308.8h4v4h-4zM555.6 308.8h4v4h-4zM574.0 308.8h4v4h-4zM592.4 308.8h4v4h-4zM610.9 308.8h4v4h-4zM629.3 308.8h4v4h-4zM647.8 308.8h4v4h-4zM666.2 308.8h4v4h-4zM684.6 308.8h4v4h-4zM703.1 308.8h4v4h-4zM721.5 308.8h4v4h-4zM740.0 308.8h4v4h-4zM758.4 308.8h4v4h-4zM776.8 308.8h4v4h-4zM795.3 308.8h4v4h-4zM813.7 308.8h4v4h-4zM832.2 308.8h4v4h-4zM850.6 308.8h4v4h-4zM869.0 308.8h4v4h-4zM887.5 308.8h4v4h-4zM905.9 308.8h4v4h-4zM924.4 308.8h4v4h-4zM942.8 308.8h4v4h-4zM961.2 308.8h4v4h-4zM979.7 308.8h4v4h-4zM998.1 308.8h4v4h-4zM1016.6 308.8h4v4h-4zM1035.0 308.8h4v4h-4zM1053.4 308.8h4v4h-4zM1071.9 308.8h4v4h-4zM1090.3 308.8h4v4h-4zM1108.8 308.8h4v4h-4zM1127.2 308.8h4v4h-4zM1145.6 308.8h4v4h-4zM1164.1 308.8h4v4h-4zM1182.5 308.8h4v4h-4zM1201.0 308.8h4v4h-4zM1219.4 308.8h4v4h-4zM1237.8 308.8h4v4h-4zM1256.3 308.8h4v4h-4zM1274.7 308.8h4v4h-4zM1293.2 308.8h4v4h-4zM1311.6 308.8h4v4h-4zM1330.0 308.8h4v4h-4zM1348.5 308.8h4v4h-4zM1366.9 308.8h4v4h-4zM1385.4 308.8h4v4h-4zM1403.8 308.8h4v4h-4zM1422.2 308.8h4v4h-4zM1440.7 308.8h4v4h-4zM1459.1 308.8h4v4h-4zM1477.6 308.8h4v4h-4zM1496.0 308.8h4v4h-4zM1514.4 308.8h4v4h-4zM1532.9 308.8h4v4h-4zM1551.3 308.8h4v4h-4zM1569.8 308.8h4v4h-4zM1588.2 308.8h4v4h-4zM1606.6 308.8h4v4h-4zM1625.1 308.8h4v4h-4zM1643.5 308.8h4v4h-4zM1662.0 308.8h4v4h-4zM1680.4 308.8h4v4h-4zM1698.8 308.8h4v4h-4zM1717.3 308.8h4v4h-4zM1735.7 308.8h4v4h-4zM1754.2 308.8h4v4h-4zM1772.6 308.8h4v4h-4zM1791.0 308.8h4v4h-4zM1809.5 308.8h4v4h-4zM1827.9 308.8h4v4h-4zM209.4 176.4h4v4h-4zM227.8 176.4h4v4h-4zM246.3 176.4h4v4h-4zM264.7 176.4h4v4h-4zM283.2 176.4h4v4h-4zM301.6 176.4h4v4h-4zM320.0 176.4h4v4h-4zM338.5 176.4h4v4h-4zM356.9 176.4h4v4h-4zM375.4 176.4h4v4h-4zM393.8 176.4h4v4h-4zM412.2 176.4h4v4h-4zM430.7 176.4h4v4h-4zM449.1 176.4h4v4h-4zM467.6 176.4h4v4h-4zM486.0 176.4h4v4h-4zM504.4 176.4h4v4h-4zM522.9 176.4h4v4h-4zM541.3 176.4h4v4h-4zM559.8 176.4h4v4h-4zM578.2 176.4h4v4h-4zM596.6 176.4h4v4h-4zM615.1 176.4h4v4h-4zM633.5 176.4h4v4h-4zM652.0 176.4h4v4h-4zM670.4 176.4h4v4h-4zM688.8 176.4h4v4h-4zM707.3 176.4h4v4h-4zM725.7 176.4h4v4h-4zM744.2 176.4h4v4h-4zM762.6 176.4h4v4h-4zM781.0 176.4h4v4h-4zM799.5 176.4h4v4h-4zM817.9 176.4h4v4h-4zM836.4 176.4h4v4h-4zM854.8 176.4h4v4h-4zM873.2 176.4h4v4h-4zM891.7 176.4h4v4h-4zM910.1 176.4h4v4h-4zM928.6 176.4h4v4h-4zM947.0 176.4h4v4h-4zM965.4 176.4h4v4h-4zM983.9 176.4h4v4h-4zM1002.3 176.4h4v4h-4zM1020.8 176.4h4v4h-4zM1039.2 176.4h4v4h-4zM1057.6 176.4h4v4h-4zM1076.1 176.4h4v4h-4zM1094.5 176.4h4v4h-4zM1113.0 176.4h4v4h-4zM1131.4 176.4h4v4h-4zM1149.8 176.4h4v4h-4zM1168.3 176.4h4v4h-4zM1186.7 176.4h4v4h-4zM1205.2 176.4h4v4h-4zM1223.6 176.4h4v4h-4zM1242.0 176.4h4v4h-4zM1260.5 176.4h4v4h-4zM1278.9 176.4h4v4h-4zM1297.4 176.4h4v4h-4zM1315.8 176.4h4v4h-4zM1334.2 176.4h4v4h-4zM1352.7 176.4h4v4h-4zM1371.1 176.4h4v4h-4zM1389.6 176.4h4v4h-4zM1408.0 176.4h4v4h-4zM1426.4 176.4h4v4h-4zM1444.9 176.4h4v4h-4zM1463.3 176.4h4v4h-4zM1481.8 176.4h4v4h-4zM1500.2 176.4h4v4h-4zM1518.6 176.4h4v4h-4zM1537.1 176.4h4v4h-4zM1555.5 176.4h4v4h-4zM1574.0 176.4h4v4h-4zM1592.4 176.4h4v4h-4zM1610.8 176.4h4v4h-4zM1629.3 176.4h4v4h-4zM1647.7 176.4h4v4h-4zM1666.2 176.4h4v4h-4zM1684.6 176.4h4v4h-4zM1703.0 176.4h4v4h-4zM1721.5 176.4h4v4h-4zM1739.9 176.4h4v4h-4zM1758.4 176.4h4v4h-4zM1776.8 176.4h4v4h-4zM1795.2 176.4h4v4h-4zM1813.7 176.4h4v4h-4zM1832.1 176.4h4v4h-4z"/>
<g shape-rendering="crispEdges" transform="scale(3.7)">
<path fill="#0000ff" d="M120 17h28v1h-28zM113 18h41v1h-41zM108 19h50v1h-50zM106 20h55v1h-55zM105 21h60v1h-60zM104 22h17v1h-17zM148 22h21v1h-21zM103 23h10v1h-10zM153 23h19v1h-19zM104 24h4v1h-4zM157 24h17v1h-17zM105 25h2v1h-2zM161 25h16v1h-16zM164 26h15v1h-15zM105 27h1v1h-1zM168 27h14v1h-14zM104 28h3v1h-3zM171 28h13v1h-13zM103 29h5v1h-5zM174 29h12v1h-12zM104 30h3v1h-3zM177 30h11v1h-11zM105 31h1v1h-1zM179 31h10v1h-10zM181 32h10v1h-10zM183 33h9v1h-9zM185 34h8v1h-8zM187 35h8v1h-8zM188 36h8v1h-8zM190 37h7v1h-7zM191 38h7v1h-7zM104 39h1v1h-1zM193 39h7v1h-7zM103 40h3v1h-3zM194 40h7v1h-7zM102 41h5v1h-5zM196 41h6v1h-6zM103 42h3v1h-3zM197 42h6v1h-6zM104 43h1v1h-1zM198 43h6v1h-6zM199 44h6v1h-6zM200 45h6v1h-6zM104 46h1v1h-1zM201 46h6v1h-6zM103 47h3v1h-3zM202 47h6v1h-6zM102 48h5v1h-5zM204 48h5v1h-5zM103 49h3v1h-3zM205 49h5v1h-5zM104 50h1v1h-1zM206 50h5v1h-5zM103 51h1v1h-1zM207 51h5v1h-5zM102 52h3v1h-3zM208 52h5v1h-5zM101 53h5v1h-5zM209 53h6v1h-6zM102 54h3v1h-3zM210 54h6v1h-6zM103 55h1v1h-1zM211 55h6v1h-6zM102 56h3v1h-3zM212 56h6v1h-6zM101 57h5v1h-5zM213 57h6v1h-6zM102 58h3v1h-3zM214 58h7v1h-7zM102 59h2v1h-2zM215 59h7v1h-7zM101 60h3v1h-3zM216 60h7v1h-7zM100 61h5v1h-5zM217 61h7v1h-7zM101 62h3v1h-3zM219 62h6v1h-6zM101 63h3v1h-3zM220 63h6v1h-6zM100 64h5v1h-5zM221 64h6v1h-6zM101 65h3v1h-3zM222 65h5v1h-5zM101 66h3v1h-3zM223 66h5v1h-5zM100 67h5v1h-5zM224 67h5v1h-5zM101 68h3v1h-3zM225 68h5v1h-5zM100 69h3v1h-3zM225 69h6v1h-6zM99 70h5v1h-5zM226 70h6v1h-6zM100 71h3v1h-3zM227 71h5v1h-5zM99 72h5v1h-5zM227 72h6v1h-6zM100 73h3v1h-3zM228 73h6v1h-6zM99 74h3v1h-3zM229 74h5v1h-5zM98 75h5v1h-5zM230 75h5v1h-5zM99 76h3v1h-3zM231 76h5v1h-5zM98 77h5v1h-5zM231 77h6v1h-6zM98 78h4v1h-4zM232 78h5v1h-5zM97 79h5v1h-5zM232 79h6v1h-6zM98 80h3v1h-3zM233 80h5v1h-5zM97 81h5v1h-5zM234 81h5v1h-5zM97 82h4v1h-4zM234 82h6v1h-6zM96 83h5v1h-5zM235 83h5v1h-5zM97 84h3v1h-3zM236 84h5v1h-5zM96 85h5v1h-5zM236 85h5v1h-5zM96 86h4v1h-4zM237 86h5v1h-5zM95 87h5v1h-5zM238 87h5v1h-5zM95 88h5v1h-5zM238 88h6v1h-6zM96 89h3v1h-3zM239 89h5v1h-5zM95 90h5v1h-5zM240 90h5v1h-5zM94 91h5v1h-5zM241 91h5v1h-5zM95 92h3v1h-3zM241 92h5v1h-5zM94 93h5v1h-5zM242 93h5v1h-5zM93 94h5v1h-5zM242 94h6v1h-6zM93 95h5v1h-5zM243 95h6v1h-6zM93 96h4v1h-4zM244 96h5v1h-5zM92 97h5v1h-5zM245 97h5v1h-5zM92 98h5v1h-5zM246 98h5v1h-5zM91 99h5v1h-5zM246 99h5v1h-5zM91 100h5v1h-5zM247 100h5v1h-5zM92 101h3v1h-3zM248 101h5v1h-5zM91 102h5v1h-5zM249 102h5v1h-5zM90 103h5v1h-5zM249 103h6v1h-6zM90 104h5v1h-5zM250 104h6v1h-6zM89 105h5v1h-5zM251 105h5v1h-5zM89 106h5v1h-5zM252 106h5v1h-5zM88 107h5v1h-5zM252 107h6v1h-6zM88 108h5v1h-5zM253 108h6v1h-6zM87 109h5v1h-5zM254 109h5v1h-5zM87 110h5v1h-5zM255 110h5v1h-5zM86 111h5v1h-5zM255 111h6v1h-6zM86 112h5v1h-5zM256 112h5v1h-5zM85 113h5v1h-5zM257 113h5v1h-5zM85 114h5v1h-5zM258 114h5v1h-5zM84 115h5v1h-5zM258 115h6v1h-6zM83 116h5v1h-5zM259 116h6v1h-6zM83 117h5v1h-5zM260 117h5v1h-5zM82 118h5v1h-5zM260 118h6v1h-6zM81 119h5v1h-5zM261 119h5v1h-5zM81 120h5v1h-5zM262 120h5v1h-5zM80 121h5v1h-5zM263 121h5v1h-5zM79 122h6v1h-6zM264 122h5v1h-5zM79 123h5v1h-5zM264 123h6v1h-6zM78 124h5v1h-5zM265 124h5v1h-5zM77 125h5v1h-5zM266 125h5v1h-5zM76 126h6v1h-6zM266 126h6v1h-6zM75 127h6v1h-6zM267 127h5v1h-5zM74 128h6v1h-6zM268 128h5v1h-5zM73 129h6v1h-6zM269 129h5v1h-5zM501 129h2v1h-2zM72 130h6v1h-6zM269 130h5v1h-5zM495 130h9v1h-9zM72 131h5v1h-5zM270 131h5v1h-5zM491 131h14v1h-14zM70 132h6v1h-6zM271 132h5v1h-5zM487 132h17v1h-17zM69 133h6v1h-6zM271 133h6v1h-6zM483 133h20v1h-20zM68 134h6v1h-6zM272 134h5v1h-5zM478 134h23v1h-23zM67 135h6v1h-6zM273 135h5v1h-5zM475 135h21v1h-21zM66 136h6v1h-6zM274 136h5v1h-5zM471 136h20v1h-20zM65 137h6v1h-6zM274 137h6v1h-6zM467 137h20v1h-20zM64 138h6v1h-6zM275 138h5v1h-5zM464 138h19v1h-19zM62 139h7v1h-7zM276 139h5v1h-5zM460 139h19v1h-19zM60 140h8v1h-8zM277 140h5v1h-5zM457 140h18v1h-18zM59 141h7v1h-7zM278 141h5v1h-5zM453 141h18v1h-18zM58 142h7v1h-7zM279 142h5v1h-5zM450 142h18v1h-18zM56 143h8v1h-8zM279 143h6v1h-6zM446 143h18v1h-18zM55 144h8v1h-8zM280 144h6v1h-6zM443 144h17v1h-17zM53 145h8v1h-8zM281 145h6v1h-6zM440 145h17v1h-17zM52 146h8v1h-8zM282 146h6v1h-6zM436 146h18v1h-18zM50 147h8v1h-8zM283 147h6v1h-6zM433 147h18v1h-18zM49 148h8v1h-8zM284 148h6v1h-6zM430 148h17v1h-17zM48 149h7v1h-7zM285 149h6v1h-6zM427 149h16v1h-16zM49 150h5v1h-5zM286 150h6v1h-6zM424 150h16v1h-16zM50 151h2v1h-2zM287 151h6v1h-6zM421 151h16v1h-16zM288 152h6v1h-6zM418 152h16v1h-16zM289 153h6v1h-6zM415 153h16v1h-16zM290 154h6v1h-6zM412 154h16v1h-16zM291 155h6v1h-6zM408 155h16v1h-16zM293 156h6v1h-6zM405 156h17v1h-17zM294 157h6v1h-6zM403 157h15v1h-15zM295 158h6v1h-6zM399 158h16v1h-16zM296 159h7v1h-7zM396 159h16v1h-16zM297 160h7v1h-7zM393 160h16v1h-16zM298 161h8v1h-8zM390 161h16v1h-16zM300 162h8v1h-8zM387 162h16v1h-16zM301 163h9v1h-9zM384 163h16v1h-16zM302 164h9v1h-9zM380 164h17v1h-17zM304 165h10v1h-10zM376 165h18v1h-18zM305 166h11v1h-11zM372 166h18v1h-18zM307 167h12v1h-12zM368 167h19v1h-19zM309 168h14v1h-14zM364 168h20v1h-20zM311 169h17v1h-17zM358 169h23v1h-23zM313 170h23v1h-23zM351 170h26v1h-26zM316 171h57v1h-57zM318 172h51v1h-51zM322 173h42v1h-42zM327 174h32v1h-32zM335 175h16v1h-16z"/>
<path fill="#000000" d="M128 20h29v1h-29zM118 21h48v1h-48zM111 22h61v1h-61zM106 23h70v1h-70zM105 24h75v1h-75zM104 25h25v1h-25zM156 25h27v1h-27zM103 26h15v1h-15zM166 26h19v1h-19zM104 27h7v1h-7zM171 27h16v1h-16zM104 28h3v1h-3zM176 28h13v1h-13zM103 29h5v1h-5zM179 29h11v1h-11zM104 30h3v1h-3zM182 30h10v1h-10zM105 31h1v1h-1zM185 31h8v1h-8zM187 32h7v1h-7zM104 33h1v1h-1zM188 33h7v1h-7zM103 34h3v1h-3zM190 34h6v1h-6zM102 35h5v1h-5zM191 35h6v1h-6zM103 36h3v1h-3zM192 36h6v1h-6zM103 37h3v1h-3zM193 37h6v1h-6zM102 38h5v1h-5zM194 38h6v1h-6zM103 39h3v1h-3zM195 39h7v1h-7zM102 40h3v1h-3zM196 40h7v1h-7zM101 41h5v1h-5zM197 41h7v1h-7zM102 42h3v1h-3zM199 42h6v1h-6zM101 43h5v1h-5zM200 43h6v1h-6zM101 44h4v1h-4zM201 44h6v1h-6zM100 45h5v1h-5zM202 45h6v1h-6zM100 46h5v1h-5zM203 46h6v1h-6zM101 47h3v1h-3zM204 47h5v1h-5zM100 48h5v1h-5zM205 48h5v1h-5zM99 49h5v1h-5zM206 49h5v1h-5zM99 50h5v1h-5zM206 50h6v1h-6zM98 51h5v1h-5zM207 51h6v1h-6zM98 52h5v1h-5zM208 52h5v1h-5zM97 53h5v1h-5zM208 53h6v1h-6zM97 54h5v1h-5zM209 54h5v1h-5zM96 55h5v1h-5zM210 55h5v1h-5zM96 56h5v1h-5zM210 56h5v1h-5zM95 57h5v1h-5zM211 57h5v1h-5zM95 58h5v1h-5zM212 58h5v1h-5zM94 59h6v1h-6zM212 59h5v1h-5zM94 60h5v1h-5zM213 60h5v1h-5zM93 61h5v1h-5zM213 61h5v1h-5zM92 62h5v1h-5zM213 62h5v1h-5zM91 63h6v1h-6zM214 63h5v1h-5zM91 64h5v1h-5zM215 64h3v1h-3zM90 65h6v1h-6zM214 65h5v1h-5zM89 66h6v1h-6zM215 66h5v1h-5zM88 67h6v1h-6zM215 67h5v1h-5zM87 68h6v1h-6zM216 68h4v1h-4zM86 69h6v1h-6zM216 69h5v1h-5zM85 70h6v1h-6zM216 70h5v1h-5zM84 71h6v1h-6zM217 71h5v1h-5zM83 72h6v1h-6zM217 72h5v1h-5zM82 73h6v1h-6zM218 73h4v1h-4zM80 74h7v1h-7zM218 74h5v1h-5zM79 75h7v1h-7zM218 75h5v1h-5zM78 76h7v1h-7zM218 76h5v1h-5zM76 77h8v1h-8zM219 77h5v1h-5zM74 78h8v1h-8zM219 78h5v1h-5zM73 79h8v1h-8zM220 79h5v1h-5zM71 80h9v1h-9zM220 80h5v1h-5zM69 81h9v1h-9zM221 81h5v1h-5zM67 82h10v1h-10zM221 82h5v1h-5zM65 83h10v1h-10zM222 83h5v1h-5zM62 84h11v1h-11zM222 84h5v1h-5zM59 85h12v1h-12zM222 85h5v1h-5zM55 86h15v1h-15zM223 86h4v1h-4zM51 87h16v1h-16zM223 87h5v1h-5zM50 88h15v1h-15zM223 88h5v1h-5zM49 89h13v1h-13zM224 89h5v1h-5zM48 90h11v1h-11zM225 90h3v1h-3zM49 91h7v1h-7zM224 91h5v1h-5zM50 92h1v1h-1zM225 92h5v1h-5zM225 93h5v1h-5zM226 94h4v1h-4zM226 95h5v1h-5zM226 96h5v1h-5zM227 97h5v1h-5zM228 98h3v1h-3zM502 98h1v1h-1zM227 99h5v1h-5zM496 99h8v1h-8zM227 100h5v1h-5zM492 100h13v1h-13zM228 101h4v1h-4zM488 101h16v1h-16zM228 102h5v1h-5zM483 102h20v1h-20zM228 103h5v1h-5zM480 103h22v1h-22zM229 104h4v1h-4zM476 104h21v1h-21zM229 105h5v1h-5zM473 105h19v1h-19zM230 106h3v1h-3zM469 106h19v1h-19zM229 107h5v1h-5zM466 107h18v1h-18zM230 108h5v1h-5zM463 108h17v1h-17zM231 109h3v1h-3zM459 109h18v1h-18zM230 110h5v1h-5zM456 110h17v1h-17zM231 111h5v1h-5zM453 111h17v1h-17zM232 112h3v1h-3zM450 112h16v1h-16zM231 113h5v1h-5zM448 113h15v1h-15zM232 114h4v1h-4zM445 114h15v1h-15zM232 115h5v1h-5zM443 115h14v1h-14zM232 116h5v1h-5zM440 116h14v1h-14zM233 117h3v1h-3zM438 117h13v1h-13zM232 118h5v1h-5zM436 118h12v1h-12zM233 119h5v1h-5zM433 119h13v1h-13zM234 120h3v1h-3zM431 120h12v1h-12zM233 121h5v1h-5zM429 121h12v1h-12zM234 122h4v1h-4zM427 122h11v1h-11zM234 123h5v1h-5zM424 123h12v1h-12zM234 124h5v1h-5zM422 124h12v1h-12zM235 125h4v1h-4zM420 125h12v1h-12zM235 126h5v1h-5zM418 126h11v1h-11zM235 127h5v1h-5zM416 127h11v1h-11zM236 128h4v1h-4zM414 128h11v1h-11zM236 129h5v1h-5zM412 129h11v1h-11zM236 130h5v1h-5zM411 130h9v1h-9zM236 131h5v1h-5zM409 131h9v1h-9zM237 132h4v1h-4zM408 132h8v1h-8zM237 133h5v1h-5zM406 133h9v1h-9zM237 134h5v1h-5zM404 134h9v1h-9zM238 135h5v1h-5zM403 135h8v1h-8zM239 136h3v1h-3zM401 136h9v1h-9zM238 137h5v1h-5zM399 137h9v1h-9zM239 138h5v1h-5zM397 138h9v1h-9zM239 139h5v1h-5zM395 139h10v1h-10zM240 140h5v1h-5zM394 140h9v1h-9zM240 141h5v1h-5zM393 141h8v1h-8zM241 142h5v1h-5zM391 142h8v1h-8zM241 143h5v1h-5zM389 143h9v1h-9zM241 144h5v1h-5zM388 144h8v1h-8zM242 145h5v1h-5zM387 145h8v1h-8zM242 146h5v1h-5zM385 146h8v1h-8zM243 147h5v1h-5zM384 147h7v1h-7zM244 148h3v1h-3zM383 148h7v1h-7zM243 149h5v1h-5zM382 149h7v1h-7zM244 150h4v1h-4zM380 150h7v1h-7zM244 151h5v1h-5zM379 151h7v1h-7zM245 152h3v1h-3zM378 152h7v1h-7zM244 153h5v1h-5zM377 153h6v1h-6zM245 154h4v1h-4zM376 154h6v1h-6zM245 155h5v1h-5zM375 155h6v1h-6zM246 156h3v1h-3zM374 156h6v1h-6zM245 157h5v1h-5zM373 157h6v1h-6zM246 158h3v1h-3zM371 158h6v1h-6zM247 159h3v1h-3zM370 159h6v1h-6zM246 160h5v1h-5zM369 160h6v1h-6zM247 161h3v1h-3zM368 161h6v1h-6zM246 162h5v1h-5zM367 162h6v1h-6zM247 163h3v1h-3zM366 163h6v1h-6zM246 164h5v1h-5zM365 164h6v1h-6zM247 165h3v1h-3zM364 165h6v1h-6zM248 166h3v1h-3zM363 166h6v1h-6zM247 167h5v1h-5zM363 167h5v1h-5zM248 168h3v1h-3zM362 168h5v1h-5zM247 169h5v1h-5zM361 169h5v1h-5zM248 170h4v1h-4zM360 170h5v1h-5zM248 171h5v1h-5zM359 171h5v1h-5zM249 172h3v1h-3zM358 172h6v1h-6zM248 173h5v1h-5zM358 173h5v1h-5zM249 174h3v1h-3zM357 174h5v1h-5zM250 175h3v1h-3zM356 175h5v1h-5zM249 176h5v1h-5zM355 176h5v1h-5zM250 177h3v1h-3zM354 177h6v1h-6zM249 178h5v1h-5zM354 178h5v1h-5zM250 179h3v1h-3zM353 179h5v1h-5zM251 180h3v1h-3zM352 180h6v1h-6zM250 181h5v1h-5zM351 181h6v1h-6zM251 182h3v1h-3zM350 182h6v1h-6zM251 183h3v1h-3zM350 183h5v1h-5zM250 184h5v1h-5zM349 184h5v1h-5zM251 185h3v1h-3zM348 185h6v1h-6zM252 186h3v1h-3zM348 186h5v1h-5zM251 187h5v1h-5zM347 187h5v1h-5zM252 188h3v1h-3zM346 188h5v1h-5zM251 189h5v1h-5zM345 189h5v1h-5zM252 190h3v1h-3zM345 190h5v1h-5zM252 191h3v1h-3zM344 191h5v1h-5zM251 192h5v1h-5zM343 192h5v1h-5zM252 193h3v1h-3zM343 193h5v1h-5zM253 194h3v1h-3zM342 194h5v1h-5zM252 195h5v1h-5zM341 195h5v1h-5zM253 196h3v1h-3zM340 196h6v1h-6zM252 197h5v1h-5zM340 197h5v1h-5zM253 198h3v1h-3zM340 198h5v1h-5zM254 199h3v1h-3zM339 199h5v1h-5zM253 200h5v1h-5zM338 200h5v1h-5zM254 201h3v1h-3zM337 201h6v1h-6zM253 202h5v1h-5zM337 202h5v1h-5zM254 203h3v1h-3zM336 203h5v1h-5zM255 204h3v1h-3zM335 204h6v1h-6zM254 205h5v1h-5zM335 205h5v1h-5zM255 206h3v1h-3zM335 206h5v1h-5zM254 207h5v1h-5zM334 207h5v1h-5zM255 208h3v1h-3zM333 208h6v1h-6zM256 209h3v1h-3zM333 209h5v1h-5zM255 210h5v1h-5zM332 210h5v1h-5zM256 211h3v1h-3zM331 211h6v1h-6zM255 212h5v1h-5zM331 212h5v1h-5zM256 213h3v1h-3zM331 213h5v1h-5zM256 214h3v1h-3zM330 214h5v1h-5zM255 215h5v1h-5zM329 215h6v1h-6zM256 216h4v1h-4zM329 216h5v1h-5zM256 217h5v1h-5zM328 217h5v1h-5zM257 218h3v1h-3zM327 218h6v1h-6zM256 219h5v1h-5zM327 219h5v1h-5zM257 220h4v1h-4zM326 220h5v1h-5zM257 221h5v1h-5zM326 221h5v1h-5zM258 222h3v1h-3zM325 222h6v1h-6zM257 223h5v1h-5zM325 223h5v1h-5zM258 224h4v1h-4zM324 224h5v1h-5zM258 225h5v1h-5zM323 225h6v1h-6zM259 226h3v1h-3zM323 226h5v1h-5zM258 227h5v1h-5zM322 227h5v1h-5zM259 228h4v1h-4zM322 228h5v1h-5zM259 229h5v1h-5zM321 229h5v1h-5zM260 230h3v1h-3zM321 230h5v1h-5zM259 231h5v1h-5zM320 231h5v1h-5zM260 232h5v1h-5zM320 232h5v1h-5zM261 233h3v1h-3zM319 233h5v1h-5zM260 234h5v1h-5zM319 234h5v1h-5zM261 235h3v1h-3zM318 235h5v1h-5zM260 236h5v1h-5zM317 236h6v1h-6zM261 237h5v1h-5zM317 237h5v1h-5zM262 238h3v1h-3zM316 238h5v1h-5zM261 239h5v1h-5zM316 239h5v1h-5zM262 240h4v1h-4zM316 240h5v1h-5zM262 241h5v1h-5zM315 241h5v1h-5zM263 242h3v1h-3zM314 242h6v1h-6zM262 243h5v1h-5zM314 243h5v1h-5zM263 244h5v1h-5zM313 244h5v1h-5zM264 245h3v1h-3zM313 245h5v1h-5zM263 246h5v1h-5zM312 246h5v1h-5zM264 247h4v1h-4zM312 247h5v1h-5zM264 248h5v1h-5zM311 248h6v1h-6zM264 249h5v1h-5zM311 249h5v1h-5zM265 250h4v1h-4zM310 250h5v1h-5zM265 251h5v1h-5zM310 251h5v1h-5zM266 252h3v1h-3zM309 252h5v1h-5zM265 253h5v1h-5zM308 253h5v1h-5zM265 254h5v1h-5zM308 254h5v1h-5zM266 255h5v1h-5zM307 255h5v1h-5zM267 256h3v1h-3zM307 256h5v1h-5zM266 257h5v1h-5zM306 257h5v1h-5zM267 258h5v1h-5zM305 258h5v1h-5zM267 259h5v1h-5zM304 259h6v1h-6zM268 260h5v1h-5zM304 260h5v1h-5zM268 261h5v1h-5zM303 261h5v1h-5zM269 262h5v1h-5zM302 262h5v1h-5zM269 263h5v1h-5zM302 263h5v1h-5zM269 264h5v1h-5zM301 264h5v1h-5zM270 265h5v1h-5zM300 265h6v1h-6zM270 266h5v1h-5zM300 266h5v1h-5zM271 267h5v1h-5zM299 267h5v1h-5zM271 268h6v1h-6zM298 268h5v1h-5zM272 269h5v1h-5zM298 269h5v1h-5zM273 270h5v1h-5zM297 270h5v1h-5zM274 271h5v1h-5zM297 271h5v1h-5zM274 272h5v1h-5zM296 272h5v1h-5zM275 273h5v1h-5zM295 273h6v1h-6zM275 274h6v1h-6zM295 274h5v1h-5zM276 275h5v1h-5zM294 275h5v1h-5zM277 276h5v1h-5zM293 276h6v1h-6zM278 277h5v1h-5zM291 277h7v1h-7zM278 278h7v1h-7zM286 278h12v1h-12zM279 279h18v1h-18zM280 280h16v1h-16zM281 281h13v1h-13zM282 282h10v1h-10zM285 283h2v1h-2z"/>
<path fill="#ff0000" d="M135 23h32v1h-32zM124 24h52v1h-52zM113 25h70v1h-70zM105 26h83v1h-83zM104 27h88v1h-88zM103 28h33v1h-33zM167 28h27v1h-27zM104 29h20v1h-20zM176 29h20v1h-20zM104 30h9v1h-9zM183 30h14v1h-14zM103 31h5v1h-5zM188 31h11v1h-11zM104 32h3v1h-3zM191 32h10v1h-10zM104 33h2v1h-2zM193 33h9v1h-9zM103 34h3v1h-3zM195 34h8v1h-8zM102 35h5v1h-5zM197 35h7v1h-7zM102 36h5v1h-5zM198 36h7v1h-7zM102 37h4v1h-4zM200 37h6v1h-6zM101 38h5v1h-5zM201 38h6v1h-6zM100 39h6v1h-6zM202 39h6v1h-6zM100 40h5v1h-5zM203 40h6v1h-6zM99 41h6v1h-6zM204 41h6v1h-6zM97 42h7v1h-7zM205 42h6v1h-6zM96 43h7v1h-7zM206 43h6v1h-6zM94 44h8v1h-8zM207 44h6v1h-6zM92 45h9v1h-9zM208 45h5v1h-5zM89 46h10v1h-10zM209 46h5v1h-5zM87 47h11v1h-11zM210 47h5v1h-5zM84 48h12v1h-12zM211 48h5v1h-5zM81 49h13v1h-13zM211 49h6v1h-6zM78 50h14v1h-14zM212 50h5v1h-5zM75 51h15v1h-15zM213 51h5v1h-5zM71 52h16v1h-16zM213 52h5v1h-5zM68 53h16v1h-16zM213 53h5v1h-5zM63 54h19v1h-19zM214 54h5v1h-5zM58 55h21v1h-21zM214 55h5v1h-5zM50 56h25v1h-25zM215 56h5v1h-5zM49 57h23v1h-23zM215 57h5v1h-5zM48 58h20v1h-20zM216 58h4v1h-4zM49 59h15v1h-15zM216 59h5v1h-5zM50 60h8v1h-8zM216 60h5v1h-5zM217 61h5v1h-5zM217 62h5v1h-5zM218 63h5v1h-5zM218 64h5v1h-5zM218 65h5v1h-5zM219 66h5v1h-5zM219 67h5v1h-5zM492 67h11v1h-11zM220 68h5v1h-5zM483 68h21v1h-21zM221 69h3v1h-3zM475 69h30v1h-30zM220 70h5v1h-5zM469 70h35v1h-35zM221 71h5v1h-5zM462 71h41v1h-41zM221 72h5v1h-5zM456 72h36v1h-36zM222 73h5v1h-5zM450 73h34v1h-34zM223 74h3v1h-3zM444 74h32v1h-32zM222 75h5v1h-5zM439 75h30v1h-30zM222 76h5v1h-5zM435 76h28v1h-28zM223 77h4v1h-4zM431 77h25v1h-25zM223 78h5v1h-5zM427 78h23v1h-23zM223 79h5v1h-5zM422 79h23v1h-23zM224 80h4v1h-4zM418 80h22v1h-22zM224 81h5v1h-5zM415 81h20v1h-20zM225 82h3v1h-3zM412 82h19v1h-19zM224 83h5v1h-5zM409 83h18v1h-18zM225 84h5v1h-5zM406 84h17v1h-17zM226 85h3v1h-3zM403 85h16v1h-16zM225 86h5v1h-5zM400 86h15v1h-15zM226 87h4v1h-4zM397 87h15v1h-15zM226 88h5v1h-5zM394 88h15v1h-15zM226 89h5v1h-5zM392 89h14v1h-14zM227 90h4v1h-4zM390 90h13v1h-13zM227 91h5v1h-5zM388 91h12v1h-12zM228 92h3v1h-3zM386 92h11v1h-11zM227 93h5v1h-5zM384 93h11v1h-11zM228 94h3v1h-3zM382 94h11v1h-11zM227 95h5v1h-5zM380 95h11v1h-11zM228 96h4v1h-4zM378 96h11v1h-11zM228 97h5v1h-5zM376 97h11v1h-11zM228 98h5v1h-5zM374 98h11v1h-11zM229 99h4v1h-4zM372 99h11v1h-11zM229 100h5v1h-5zM370 100h11v1h-11zM230 101h3v1h-3zM369 101h9v1h-9zM229 102h5v1h-5zM367 102h9v1h-9zM230 103h4v1h-4zM366 103h9v1h-9zM230 104h5v1h-5zM365 104h8v1h-8zM231 105h3v1h-3zM364 105h7v1h-7zM230 106h5v1h-5zM362 106h7v1h-7zM231 107h4v1h-4zM361 107h7v1h-7zM231 108h5v1h-5zM360 108h6v1h-6zM232 109h3v1h-3zM359 109h6v1h-6zM232 110h3v1h-3zM358 110h6v1h-6zM231 111h5v1h-5zM357 111h6v1h-6zM232 112h4v1h-4zM356 112h6v1h-6zM232 113h5v1h-5zM355 113h6v1h-6zM233 114h3v1h-3zM354 114h6v1h-6zM232 115h5v1h-5zM353 115h6v1h-6zM233 116h3v1h-3zM352 116h6v1h-6zM232 117h5v1h-5zM351 117h6v1h-6zM233 118h3v1h-3zM350 118h6v1h-6zM234 119h3v1h-3zM349 119h6v1h-6zM233 120h5v1h-5zM348 120h6v1h-6zM234 121h3v1h-3zM347 121h6v1h-6zM233 122h5v1h-5zM346 122h6v1h-6zM234 123h3v1h-3zM345 123h5v1h-5zM235 124h3v1h-3zM344 124h5v1h-5zM234 125h5v1h-5zM342 125h6v1h-6zM235 126h3v1h-3zM341 126h6v1h-6zM234 127h5v1h-5zM340 127h6v1h-6zM235 128h3v1h-3zM340 128h5v1h-5zM236 129h3v1h-3zM339 129h5v1h-5zM235 130h5v1h-5zM338 130h5v1h-5zM236 131h3v1h-3zM337 131h5v1h-5zM235 132h5v1h-5zM336 132h5v1h-5zM236 133h3v1h-3zM335 133h6v1h-6zM237 134h3v1h-3zM335 134h5v1h-5zM236 135h5v1h-5zM334 135h5v1h-5zM237 136h3v1h-3zM333 136h6v1h-6zM237 137h3v1h-3zM333 137h5v1h-5zM236 138h5v1h-5zM332 138h5v1h-5zM237 139h3v1h-3zM331 139h5v1h-5zM237 140h3v1h-3zM331 140h5v1h-5zM236 141h5v1h-5zM330 141h5v1h-5zM237 142h3v1h-3zM329 142h6v1h-6zM238 143h3v1h-3zM329 143h5v1h-5zM237 144h5v1h-5zM328 144h5v1h-5zM238 145h3v1h-3zM327 145h5v1h-5zM238 146h3v1h-3zM327 146h5v1h-5zM237 147h5v1h-5zM326 147h5v1h-5zM238 148h3v1h-3zM326 148h5v1h-5zM239 149h3v1h-3zM325 149h5v1h-5zM238 150h5v1h-5zM325 150h5v1h-5zM239 151h3v1h-3zM324 151h5v1h-5zM239 152h3v1h-3zM323 152h5v1h-5zM238 153h5v1h-5zM323 153h5v1h-5zM239 154h3v1h-3zM322 154h5v1h-5zM240 155h2v1h-2zM322 155h5v1h-5zM240 156h3v1h-3zM321 156h5v1h-5zM239 157h5v1h-5zM321 157h5v1h-5zM240 158h3v1h-3zM320 158h5v1h-5zM240 159h3v1h-3zM320 159h5v1h-5zM239 160h5v1h-5zM319 160h5v1h-5zM240 161h3v1h-3zM319 161h5v1h-5zM241 162h2v1h-2zM318 162h5v1h-5zM241 163h3v1h-3zM318 163h5v1h-5zM240 164h5v1h-5zM317 164h5v1h-5zM241 165h3v1h-3zM317 165h5v1h-5zM242 166h1v1h-1zM316 166h5v1h-5zM241 167h3v1h-3zM316 167h5v1h-5zM240 168h5v1h-5zM316 168h5v1h-5zM241 169h3v1h-3zM316 169h4v1h-4zM242 170h3v1h-3zM315 170h5v1h-5zM241 171h5v1h-5zM315 171h5v1h-5zM242 172h3v1h-3zM314 172h5v1h-5zM243 173h1v1h-1zM314 173h5v1h-5zM242 174h3v1h-3zM313 174h5v1h-5zM241 175h5v1h-5zM314 175h3v1h-3zM242 176h3v1h-3zM313 176h5v1h-5zM243 177h1v1h-1zM312 177h5v1h-5zM242 178h3v1h-3zM312 178h5v1h-5zM241 179h5v1h-5zM313 179h3v1h-3zM242 180h3v1h-3zM312 180h5v1h-5zM243 181h1v1h-1zM311 181h5v1h-5zM244 182h1v1h-1zM311 182h5v1h-5zM243 183h3v1h-3zM310 183h5v1h-5zM242 184h5v1h-5zM311 184h3v1h-3zM243 185h3v1h-3zM310 185h5v1h-5zM244 186h1v1h-1zM309 186h5v1h-5zM243 187h3v1h-3zM309 187h5v1h-5zM242 188h5v1h-5zM309 188h4v1h-4zM243 189h3v1h-3zM308 189h5v1h-5zM244 190h2v1h-2zM308 190h5v1h-5zM244 191h3v1h-3zM308 191h4v1h-4zM243 192h5v1h-5zM307 192h5v1h-5zM244 193h3v1h-3zM307 193h5v1h-5zM245 194h1v1h-1zM307 194h5v1h-5zM245 195h1v1h-1zM307 195h4v1h-4zM244 196h3v1h-3zM306 196h5v1h-5zM243 197h5v1h-5zM306 197h5v1h-5zM244 198h3v1h-3zM306 198h4v1h-4zM245 199h1v1h-1zM305 199h5v1h-5zM246 200h1v1h-1zM305 200h5v1h-5zM245 201h3v1h-3zM305 201h4v1h-4zM244 202h5v1h-5zM304 202h5v1h-5zM245 203h3v1h-3zM304 203h5v1h-5zM246 204h1v1h-1zM304 204h4v1h-4zM245 205h3v1h-3zM303 205h5v1h-5zM244 206h5v1h-5zM303 206h5v1h-5zM245 207h3v1h-3zM303 207h4v1h-4zM246 208h1v1h-1zM302 208h5v1h-5zM247 209h1v1h-1zM302 209h5v1h-5zM246 210h3v1h-3zM303 210h3v1h-3zM245 211h5v1h-5zM302 211h5v1h-5zM246 212h3v1h-3zM302 212h4v1h-4zM247 213h1v1h-1zM301 213h5v1h-5zM247 214h1v1h-1zM301 214h5v1h-5zM246 215h3v1h-3zM301 215h4v1h-4zM245 216h5v1h-5zM300 216h5v1h-5zM246 217h3v1h-3zM300 217h5v1h-5zM247 218h1v1h-1zM300 218h4v1h-4zM248 219h1v1h-1zM299 219h5v1h-5zM247 220h3v1h-3zM300 220h3v1h-3zM246 221h5v1h-5zM299 221h5v1h-5zM247 222h3v1h-3zM299 222h4v1h-4zM248 223h1v1h-1zM298 223h5v1h-5zM248 224h1v1h-1zM298 224h5v1h-5zM247 225h3v1h-3zM299 225h3v1h-3zM246 226h5v1h-5zM298 226h5v1h-5zM247 227h3v1h-3zM298 227h4v1h-4zM248 228h1v1h-1zM297 228h5v1h-5zM248 229h1v1h-1zM298 229h3v1h-3zM247 230h3v1h-3zM297 230h5v1h-5zM246 231h5v1h-5zM297 231h4v1h-4zM247 232h3v1h-3zM296 232h5v1h-5zM248 233h2v1h-2zM296 233h5v1h-5zM248 234h3v1h-3zM296 234h4v1h-4zM247 235h5v1h-5zM295 235h5v1h-5zM248 236h3v1h-3zM296 236h3v1h-3zM249 237h1v1h-1zM295 237h5v1h-5zM249 238h1v1h-1zM295 238h4v1h-4zM248 239h3v1h-3zM294 239h5v1h-5zM247 240h5v1h-5zM295 240h3v1h-3zM248 241h3v1h-3zM294 241h5v1h-5zM249 242h1v1h-1zM294 242h4v1h-4zM250 243h1v1h-1zM293 243h5v1h-5zM249 244h3v1h-3zM294 244h3v1h-3zM248 245h5v1h-5zM293 245h5v1h-5zM249 246h3v1h-3zM294 246h3v1h-3zM250 247h1v1h-1zM293 247h5v1h-5zM249 248h3v1h-3zM293 248h4v1h-4zM248 249h5v1h-5zM292 249h5v1h-5zM249 250h3v1h-3zM293 250h3v1h-3zM250 251h1v1h-1zM293 251h3v1h-3zM251 252h1v1h-1zM292 252h5v1h-5zM250 253h3v1h-3zM292 253h4v1h-4zM249 254h5v1h-5zM291 254h5v1h-5zM250 255h3v1h-3zM292 255h3v1h-3zM251 256h1v1h-1zM291 256h5v1h-5zM250 257h3v1h-3zM291 257h4v1h-4zM249 258h5v1h-5zM290 258h5v1h-5zM250 259h3v1h-3zM291 259h3v1h-3zM251 260h2v1h-2zM291 260h3v1h-3zM251 261h3v1h-3zM290 261h5v1h-5zM250 262h5v1h-5zM290 262h4v1h-4zM251 263h3v1h-3zM289 263h5v1h-5zM252 264h1v1h-1zM290 264h3v1h-3zM252 265h1v1h-1zM289 265h5v1h-5zM251 266h3v1h-3zM290 266h3v1h-3zM250 267h5v1h-5zM289 267h3v1h-3zM251 268h3v1h-3zM288 268h5v1h-5zM252 269h2v1h-2zM289 269h3v1h-3zM252 270h3v1h-3zM288 270h5v1h-5zM251 271h5v1h-5zM289 271h3v1h-3zM252 272h3v1h-3zM289 272h3v1h-3zM253 273h1v1h-1zM288 273h5v1h-5zM252 274h3v1h-3zM288 274h4v1h-4zM251 275h5v1h-5zM287 275h5v1h-5zM252 276h3v1h-3zM288 276h3v1h-3zM253 277h1v1h-1zM288 277h3v1h-3zM252 278h3v1h-3zM287 278h5v1h-5zM251 279h5v1h-5zM287 279h4v1h-4zM252 280h3v1h-3zM286 280h5v1h-5zM253 281h3v1h-3zM287 281h3v1h-3zM252 282h5v1h-5zM287 282h3v1h-3zM253 283h3v1h-3zM286 283h5v1h-5zM254 284h1v1h-1zM287 284h3v1h-3zM253 285h3v1h-3zM286 285h3v1h-3zM252 286h5v1h-5zM285 286h5v1h-5zM253 287h3v1h-3zM286 287h3v1h-3zM254 288h2v1h-2zM285 288h5v1h-5zM254 289h3v1h-3zM286 289h3v1h-3zM253 290h5v1h-5zM285 290h3v1h-3zM254 291h3v1h-3zM284 291h5v1h-5zM254 292h3v1h-3zM285 292h3v1h-3zM253 293h5v1h-5zM285 293h3v1h-3zM254 294h3v1h-3zM284 294h5v1h-5zM255 295h2v1h-2zM285 295h3v1h-3zM255 296h3v1h-3zM284 296h5v1h-5zM254 297h5v1h-5zM285 297h3v1h-3zM255 298h3v1h-3zM284 298h3v1h-3zM255 299h3v1h-3zM283 299h5v1h-5zM254 300h5v1h-5zM284 300h3v1h-3zM255 301h3v1h-3zM284 301h3v1h-3zM256 302h2v1h-2zM283 302h5v1h-5zM256 303h3v1h-3zM284 303h3v1h-3zM255 304h5v1h-5zM283 304h3v1h-3zM256 305h3v1h-3zM282 305h5v1h-5zM256 306h3v1h-3zM283 306h3v1h-3zM255 307h5v1h-5zM283 307h3v1h-3zM256 308h3v1h-3zM282 308h5v1h-5zM256 309h3v1h-3zM282 309h4v1h-4zM255 310h5v1h-5zM281 310h5v1h-5zM256 311h3v1h-3zM282 311h3v1h-3zM257 312h2v1h-2zM282 312h3v1h-3zM257 313h3v1h-3zM281 313h5v1h-5zM256 314h5v1h-5zM282 314h3v1h-3zM257 315h3v1h-3zM281 315h3v1h-3zM257 316h3v1h-3zM280 316h5v1h-5zM256 317h5v1h-5zM281 317h3v1h-3zM257 318h3v1h-3zM281 318h3v1h-3zM258 319h3v1h-3zM280 319h5v1h-5zM257 320h5v1h-5zM280 320h4v1h-4zM258 321h3v1h-3zM279 321h5v1h-5zM258 322h3v1h-3zM280 322h3v1h-3zM257 323h5v1h-5zM280 323h3v1h-3zM258 324h3v1h-3zM279 324h5v1h-5zM259 325h3v1h-3zM280 325h3v1h-3zM258 326h5v1h-5zM279 326h5v1h-5zM259 327h3v1h-3zM280 327h3v1h-3zM259 328h3v1h-3zM279 328h3v1h-3zM258 329h5v1h-5zM278 329h5v1h-5zM259 330h3v1h-3zM279 330h3v1h-3zM260 331h3v1h-3zM278 331h5v1h-5zM259 332h5v1h-5zM278 332h4v1h-4zM260 333h3v1h-3zM277 333h5v1h-5zM260 334h3v1h-3zM278 334h3v1h-3zM259 335h5v1h-5zM278 335h3v1h-3zM260 336h3v1h-3zM277 336h5v1h-5zM261 337h3v1h-3zM277 337h4v1h-4zM260 338h5v1h-5zM276 338h5v1h-5zM261 339h3v1h-3zM277 339h3v1h-3zM261 340h3v1h-3zM276 340h5v1h-5zM260 341h5v1h-5zM276 341h4v1h-4zM261 342h3v1h-3zM275 342h5v1h-5zM261 343h3v1h-3zM276 343h3v1h-3zM260 344h5v1h-5zM275 344h5v1h-5zM261 345h3v1h-3zM274 345h5v1h-5zM262 346h3v1h-3zM275 346h3v1h-3zM261 347h5v1h-5zM274 347h5v1h-5zM262 348h3v1h-3zM275 348h3v1h-3zM262 349h3v1h-3zM274 349h5v1h-5zM261 350h5v1h-5zM273 350h5v1h-5zM262 351h4v1h-4zM273 351h5v1h-5zM262 352h5v1h-5zM273 352h4v1h-4zM263 353h3v1h-3zM272 353h5v1h-5zM262 354h5v1h-5zM272 354h5v1h-5zM263 355h4v1h-4zM271 355h5v1h-5zM263 356h5v1h-5zM271 356h5v1h-5zM264 357h3v1h-3zM270 357h5v1h-5zM263 358h5v1h-5zM270 358h5v1h-5zM264 359h10v1h-10zM264 360h10v1h-10zM265 361h8v1h-8zM266 362h6v1h-6zM267 363h4v1h-4z"/>
<path fill="#00ff00" d="M127 26h62v1h-62zM106 27h89v1h-89zM105 28h94v1h-94zM104 29h98v1h-98zM103 30h101v1h-101zM103 31h24v1h-24zM189 31h17v1h-17zM103 32h4v1h-4zM195 32h12v1h-12zM102 33h5v1h-5zM198 33h11v1h-11zM102 34h5v1h-5zM201 34h10v1h-10zM99 35h7v1h-7zM203 35h9v1h-9zM94 36h11v1h-11zM205 36h8v1h-8zM88 37h16v1h-16zM207 37h8v1h-8zM82 38h21v1h-21zM209 38h7v1h-7zM75 39h27v1h-27zM210 39h7v1h-7zM67 40h32v1h-32zM211 40h7v1h-7zM55 41h40v1h-40zM213 41h5v1h-5zM50 42h39v1h-39zM214 42h5v1h-5zM49 43h33v1h-33zM214 43h6v1h-6zM48 44h27v1h-27zM215 44h6v1h-6zM49 45h18v1h-18zM216 45h6v1h-6zM50 46h6v1h-6zM217 46h5v1h-5zM218 47h5v1h-5zM218 48h5v1h-5zM219 49h5v1h-5zM492 49h11v1h-11zM220 50h5v1h-5zM474 50h30v1h-30zM220 51h5v1h-5zM459 51h46v1h-46zM221 52h5v1h-5zM446 52h58v1h-58zM221 53h5v1h-5zM435 53h68v1h-68zM222 54h5v1h-5zM424 54h69v1h-69zM222 55h5v1h-5zM416 55h58v1h-58zM222 56h5v1h-5zM409 56h50v1h-50zM223 57h5v1h-5zM403 57h44v1h-44zM223 58h5v1h-5zM396 58h39v1h-39zM224 59h5v1h-5zM392 59h32v1h-32zM224 60h5v1h-5zM388 60h29v1h-29zM225 61h5v1h-5zM384 61h26v1h-26zM226 62h3v1h-3zM380 62h23v1h-23zM225 63h5v1h-5zM376 63h21v1h-21zM226 64h5v1h-5zM372 64h20v1h-20zM226 65h5v1h-5zM368 65h20v1h-20zM227 66h4v1h-4zM365 66h19v1h-19zM227 67h5v1h-5zM362 67h18v1h-18zM227 68h5v1h-5zM359 68h17v1h-17zM227 69h5v1h-5zM357 69h15v1h-15zM228 70h4v1h-4zM354 70h15v1h-15zM228 71h5v1h-5zM352 71h14v1h-14zM229 72h3v1h-3zM350 72h13v1h-13zM228 73h5v1h-5zM348 73h12v1h-12zM229 74h5v1h-5zM347 74h10v1h-10zM230 75h3v1h-3zM345 75h10v1h-10zM229 76h5v1h-5zM343 76h9v1h-9zM230 77h4v1h-4zM341 77h10v1h-10zM230 78h5v1h-5zM340 78h9v1h-9zM231 79h3v1h-3zM338 79h9v1h-9zM230 80h5v1h-5zM337 80h8v1h-8zM231 81h5v1h-5zM335 81h8v1h-8zM232 82h3v1h-3zM333 82h9v1h-9zM231 83h5v1h-5zM332 83h8v1h-8zM232 84h4v1h-4zM331 84h7v1h-7zM232 85h5v1h-5zM329 85h8v1h-8zM233 86h3v1h-3zM328 86h7v1h-7zM233 87h3v1h-3zM327 87h7v1h-7zM232 88h5v1h-5zM326 88h7v1h-7zM233 89h3v1h-3zM325 89h6v1h-6zM232 90h5v1h-5zM324 90h6v1h-6zM233 91h4v1h-4zM323 91h6v1h-6zM233 92h5v1h-5zM322 92h6v1h-6zM234 93h3v1h-3zM321 93h6v1h-6zM233 94h5v1h-5zM320 94h6v1h-6zM234 95h4v1h-4zM319 95h6v1h-6zM234 96h5v1h-5zM318 96h6v1h-6zM235 97h3v1h-3zM317 97h6v1h-6zM235 98h3v1h-3zM316 98h6v1h-6zM234 99h5v1h-5zM316 99h5v1h-5zM235 100h4v1h-4zM315 100h5v1h-5zM235 101h5v1h-5zM314 101h5v1h-5zM236 102h3v1h-3zM313 102h5v1h-5zM236 103h3v1h-3zM312 103h5v1h-5zM235 104h5v1h-5zM312 104h5v1h-5zM236 105h4v1h-4zM311 105h5v1h-5zM236 106h5v1h-5zM310 106h5v1h-5zM237 107h3v1h-3zM309 107h5v1h-5zM237 108h3v1h-3zM308 108h6v1h-6zM236 109h5v1h-5zM308 109h5v1h-5zM237 110h3v1h-3zM307 110h5v1h-5zM237 111h3v1h-3zM307 111h5v1h-5zM236 112h5v1h-5zM307 112h5v1h-5zM237 113h4v1h-4zM306 113h5v1h-5zM237 114h5v1h-5zM306 114h5v1h-5zM238 115h3v1h-3zM305 115h5v1h-5zM238 116h3v1h-3zM305 116h5v1h-5zM237 117h5v1h-5zM304 117h5v1h-5zM238 118h3v1h-3zM304 118h5v1h-5zM239 119h3v1h-3zM303 119h5v1h-5zM238 120h5v1h-5zM303 120h5v1h-5zM239 121h3v1h-3zM302 121h5v1h-5zM239 122h3v1h-3zM302 122h5v1h-5zM238 123h5v1h-5zM302 123h5v1h-5zM239 124h3v1h-3zM301 124h5v1h-5zM240 125h2v1h-2zM300 125h5v1h-5zM240 126h3v1h-3zM300 126h5v1h-5zM239 127h5v1h-5zM299 127h5v1h-5zM240 128h3v1h-3zM299 128h5v1h-5zM240 129h3v1h-3zM298 129h5v1h-5zM239 130h5v1h-5zM298 130h5v1h-5zM240 131h3v1h-3zM299 131h3v1h-3zM241 132h2v1h-2zM298 132h5v1h-5zM241 133h3v1h-3zM297 133h5v1h-5zM240 134h5v1h-5zM298 134h3v1h-3zM241 135h3v1h-3zM297 135h5v1h-5zM242 136h1v1h-1zM296 136h5v1h-5zM241 137h3v1h-3zM297 137h3v1h-3zM240 138h5v1h-5zM296 138h5v1h-5zM241 139h3v1h-3zM295 139h5v1h-5zM242 140h2v1h-2zM296 140h3v1h-3zM242 141h3v1h-3zM295 141h5v1h-5zM241 142h5v1h-5zM295 142h4v1h-4zM242 143h3v1h-3zM294 143h5v1h-5zM243 144h1v1h-1zM294 144h5v1h-5zM242 145h3v1h-3zM294 145h4v1h-4zM241 146h5v1h-5zM293 146h5v1h-5zM242 147h3v1h-3zM294 147h3v1h-3zM243 148h1v1h-1zM293 148h5v1h-5zM242 149h3v1h-3zM294 149h3v1h-3zM241 150h5v1h-5zM293 150h5v1h-5zM242 151h3v1h-3zM292 151h5v1h-5zM243 152h1v1h-1zM293 152h3v1h-3zM244 153h1v1h-1zM292 153h5v1h-5zM243 154h3v1h-3zM292 154h4v1h-4zM242 155h5v1h-5zM291 155h5v1h-5zM243 156h3v1h-3zM292 156h3v1h-3zM244 157h1v1h-1zM291 157h5v1h-5zM244 158h1v1h-1zM290 158h5v1h-5zM243 159h3v1h-3zM291 159h3v1h-3zM242 160h5v1h-5zM290 160h5v1h-5zM243 161h3v1h-3zM290 161h4v1h-4zM244 162h1v1h-1zM289 162h5v1h-5zM245 163h1v1h-1zM290 163h3v1h-3zM244 164h3v1h-3zM289 164h5v1h-5zM243 165h5v1h-5zM289 165h4v1h-4zM244 166h3v1h-3zM288 166h5v1h-5zM245 167h1v1h-1zM289 167h3v1h-3zM245 168h1v1h-1zM288 168h5v1h-5zM244 169h3v1h-3zM289 169h3v1h-3zM243 170h5v1h-5zM288 170h5v1h-5zM244 171h3v1h-3zM288 171h4v1h-4zM245 172h1v1h-1zM287 172h5v1h-5zM288 173h3v1h-3zM246 174h1v1h-1zM287 174h5v1h-5zM245 175h3v1h-3zM287 175h4v1h-4zM244 176h5v1h-5zM286 176h5v1h-5zM245 177h3v1h-3zM287 177h3v1h-3zM246 178h1v1h-1zM286 178h5v1h-5zM287 179h3v1h-3zM246 180h1v1h-1zM286 180h3v1h-3zM245 181h3v1h-3zM285 181h5v1h-5zM244 182h5v1h-5zM286 182h3v1h-3zM245 183h3v1h-3zM285 183h5v1h-5zM246 184h1v1h-1zM285 184h4v1h-4zM284 185h5v1h-5zM285 186h3v1h-3zM247 187h1v1h-1zM284 187h5v1h-5zM246 188h3v1h-3zM285 188h3v1h-3zM245 189h5v1h-5zM285 189h3v1h-3zM246 190h3v1h-3zM284 190h5v1h-5zM247 191h1v1h-1zM284 191h4v1h-4zM283 192h5v1h-5zM284 193h3v1h-3zM247 194h1v1h-1zM284 194h3v1h-3zM246 195h3v1h-3zM283 195h5v1h-5zM245 196h5v1h-5zM283 196h4v1h-4zM246 197h3v1h-3zM282 197h5v1h-5zM247 198h1v1h-1zM283 198h3v1h-3zM283 199h3v1h-3zM282 200h5v1h-5zM248 201h1v1h-1zM282 201h4v1h-4zM247 202h3v1h-3zM281 202h5v1h-5zM246 203h5v1h-5zM282 203h3v1h-3zM247 204h3v1h-3zM282 204h3v1h-3zM248 205h1v1h-1zM281 205h5v1h-5zM282 206h3v1h-3zM281 207h3v1h-3zM248 208h1v1h-1zM280 208h5v1h-5zM247 209h3v1h-3zM281 209h3v1h-3zM246 210h5v1h-5zM280 210h5v1h-5zM247 211h3v1h-3zM281 211h3v1h-3zM248 212h1v1h-1zM280 212h3v1h-3zM279 213h5v1h-5zM280 214h3v1h-3zM280 215h3v1h-3zM248 216h1v1h-1zM279 216h5v1h-5zM247 217h3v1h-3zM280 217h3v1h-3zM246 218h5v1h-5zM280 218h3v1h-3zM247 219h3v1h-3zM279 219h5v1h-5zM248 220h1v1h-1zM280 220h3v1h-3zM279 221h3v1h-3zM278 222h5v1h-5zM279 223h3v1h-3zM249 224h1v1h-1zM279 224h3v1h-3zM248 225h3v1h-3zM278 225h5v1h-5zM247 226h5v1h-5zM279 226h3v1h-3zM248 227h3v1h-3zM279 227h2v1h-2zM249 228h1v1h-1zM278 228h3v1h-3zM277 229h5v1h-5zM278 230h3v1h-3zM249 231h1v1h-1zM278 231h3v1h-3zM248 232h3v1h-3zM277 232h5v1h-5zM247 233h5v1h-5zM278 233h3v1h-3zM248 234h3v1h-3zM277 234h3v1h-3zM249 235h1v1h-1zM276 235h5v1h-5zM277 236h3v1h-3zM278 237h1v1h-1zM250 238h1v1h-1zM277 238h3v1h-3zM249 239h3v1h-3zM276 239h5v1h-5zM248 240h5v1h-5zM277 240h3v1h-3zM249 241h3v1h-3zM277 241h2v1h-2zM250 242h1v1h-1zM276 242h3v1h-3zM275 243h5v1h-5zM276 244h3v1h-3zM250 245h1v1h-1zM276 245h3v1h-3zM249 246h3v1h-3zM275 246h5v1h-5zM248 247h5v1h-5zM276 247h3v1h-3zM249 248h3v1h-3zM276 248h2v1h-2zM250 249h1v1h-1zM275 249h3v1h-3zM274 250h5v1h-5zM275 251h3v1h-3zM251 252h1v1h-1zM276 252h1v1h-1zM250 253h3v1h-3zM275 253h3v1h-3zM249 254h5v1h-5zM274 254h5v1h-5zM250 255h3v1h-3zM275 255h3v1h-3zM251 256h1v1h-1zM276 256h1v1h-1zM275 257h3v1h-3zM274 258h5v1h-5zM251 259h1v1h-1zM275 259h3v1h-3zM250 260h3v1h-3zM275 260h2v1h-2zM249 261h5v1h-5zM274 261h3v1h-3zM250 262h3v1h-3zM273 262h5v1h-5zM251 263h1v1h-1zM274 263h3v1h-3zM275 264h1v1h-1zM252 265h1v1h-1zM275 265h1v1h-1zM251 266h3v1h-3zM274 266h3v1h-3zM250 267h5v1h-5zM273 267h5v1h-5zM251 268h3v1h-3zM274 268h3v1h-3zM252 269h1v1h-1zM274 269h2v1h-2zM273 270h3v1h-3zM252 271h1v1h-1zM272 271h5v1h-5zM251 272h3v1h-3zM273 272h3v1h-3zM250 273h5v1h-5zM274 273h1v1h-1zM251 274h3v1h-3zM273 274h3v1h-3zM252 275h1v1h-1zM272 275h5v1h-5zM253 276h1v1h-1zM273 276h3v1h-3zM252 277h3v1h-3zM274 277h1v1h-1zM251 278h5v1h-5zM273 278h1v1h-1zM252 279h3v1h-3zM272 279h3v1h-3zM253 280h1v1h-1zM271 280h5v1h-5zM272 281h3v1h-3zM253 282h1v1h-1zM273 282h1v1h-1zM252 283h3v1h-3zM272 283h3v1h-3zM251 284h5v1h-5zM271 284h5v1h-5zM252 285h3v1h-3zM272 285h3v1h-3zM253 286h1v1h-1zM273 286h1v1h-1zM253 287h1v1h-1zM272 287h1v1h-1zM252 288h3v1h-3zM271 288h3v1h-3zM251 289h5v1h-5zM270 289h5v1h-5zM252 290h3v1h-3zM271 290h3v1h-3zM253 291h1v1h-1zM272 291h1v1h-1zM271 292h3v1h-3zM254 293h1v1h-1zM270 293h5v1h-5zM253 294h3v1h-3zM271 294h3v1h-3zM252 295h5v1h-5zM271 295h2v1h-2zM253 296h3v1h-3zM270 296h3v1h-3zM254 297h1v1h-1zM269 297h5v1h-5zM254 298h1v1h-1zM270 298h3v1h-3zM253 299h3v1h-3zM271 299h1v1h-1zM252 300h5v1h-5zM271 300h1v1h-1zM253 301h3v1h-3zM270 301h3v1h-3zM254 302h1v1h-1zM269 302h5v1h-5zM255 303h1v1h-1zM270 303h3v1h-3zM254 304h3v1h-3zM271 304h1v1h-1zM253 305h5v1h-5zM270 305h3v1h-3zM254 306h3v1h-3zM269 306h5v1h-5zM255 307h1v1h-1zM270 307h3v1h-3zM255 308h1v1h-1zM270 308h2v1h-2zM254 309h3v1h-3zM269 309h3v1h-3zM253 310h5v1h-5zM268 310h5v1h-5zM254 311h3v1h-3zM269 311h3v1h-3zM255 312h2v1h-2zM270 312h1v1h-1zM255 313h3v1h-3zM269 313h3v1h-3zM254 314h5v1h-5zM268 314h5v1h-5zM255 315h3v1h-3zM269 315h3v1h-3zM256 316h1v1h-1zM268 316h3v1h-3zM256 317h1v1h-1zM267 317h5v1h-5zM255 318h3v1h-3zM268 318h3v1h-3zM254 319h5v1h-5zM269 319h1v1h-1zM255 320h3v1h-3zM268 320h3v1h-3zM256 321h1v1h-1zM267 321h5v1h-5zM257 322h1v1h-1zM268 322h3v1h-3zM256 323h3v1h-3zM267 323h3v1h-3zM255 324h5v1h-5zM266 324h5v1h-5zM256 325h3v1h-3zM267 325h3v1h-3zM257 326h1v1h-1zM267 326h3v1h-3zM257 327h1v1h-1zM266 327h5v1h-5zM256 328h3v1h-3zM267 328h3v1h-3zM255 329h5v1h-5zM266 329h3v1h-3zM256 330h3v1h-3zM265 330h5v1h-5zM257 331h1v1h-1zM266 331h3v1h-3zM266 332h3v1h-3zM257 333h1v1h-1zM265 333h5v1h-5zM256 334h3v1h-3zM266 334h3v1h-3zM255 335h5v1h-5zM265 335h5v1h-5zM256 336h3v1h-3zM266 336h3v1h-3zM257 337h1v1h-1zM265 337h3v1h-3zM258 338h1v1h-1zM264 338h5v1h-5zM257 339h3v1h-3zM265 339h3v1h-3zM256 340h5v1h-5zM264 340h5v1h-5zM257 341h3v1h-3zM264 341h4v1h-4zM258 342h1v1h-1zM263 342h5v1h-5zM257 343h3v1h-3zM264 343h3v1h-3zM256 344h5v1h-5zM263 344h5v1h-5zM257 345h3v1h-3zM263 345h4v1h-4zM258 346h3v1h-3zM262 346h5v1h-5zM257 347h10v1h-10zM258 348h3v1h-3zM262 348h4v1h-4zM257 349h9v1h-9zM258 350h8v1h-8zM258 351h7v1h-7zM259 352h6v1h-6zM260 353h4v1h-4zM261 354h2v1h-2z"/>
<path fill="#00ffff" d="M105 28h92v1h-92zM104 29h101v1h-101zM102 30h107v1h-107zM99 31h113v1h-113zM93 32h122v1h-122zM82 33h24v1h-24zM197 33h19v1h-19zM61 34h44v1h-44zM205 34h13v1h-13zM50 35h53v1h-53zM209 35h11v1h-11zM49 36h50v1h-50zM212 36h9v1h-9zM48 37h45v1h-45zM214 37h8v1h-8zM49 38h34v1h-34zM216 38h7v1h-7zM50 39h11v1h-11zM218 39h6v1h-6zM219 40h6v1h-6zM220 41h6v1h-6zM459 41h44v1h-44zM221 42h6v1h-6zM430 42h74v1h-74zM222 43h6v1h-6zM412 43h93v1h-93zM223 44h6v1h-6zM396 44h108v1h-108zM224 45h6v1h-6zM382 45h121v1h-121zM225 46h6v1h-6zM373 46h86v1h-86zM226 47h5v1h-5zM365 47h66v1h-66zM227 48h5v1h-5zM360 48h53v1h-53zM227 49h5v1h-5zM355 49h42v1h-42zM228 50h5v1h-5zM351 50h32v1h-32zM228 51h6v1h-6zM347 51h26v1h-26zM229 52h5v1h-5zM343 52h23v1h-23zM230 53h5v1h-5zM339 53h21v1h-21zM230 54h5v1h-5zM336 54h19v1h-19zM231 55h5v1h-5zM333 55h18v1h-18zM231 56h5v1h-5zM330 56h17v1h-17zM232 57h5v1h-5zM327 57h16v1h-16zM233 58h3v1h-3zM324 58h16v1h-16zM232 59h5v1h-5zM322 59h14v1h-14zM232 60h5v1h-5zM320 60h13v1h-13zM233 61h5v1h-5zM318 61h12v1h-12zM234 62h3v1h-3zM316 62h12v1h-12zM233 63h5v1h-5zM314 63h11v1h-11zM234 64h5v1h-5zM313 64h10v1h-10zM235 65h3v1h-3zM312 65h8v1h-8zM234 66h5v1h-5zM310 66h9v1h-9zM235 67h5v1h-5zM309 67h8v1h-8zM236 68h3v1h-3zM308 68h7v1h-7zM235 69h5v1h-5zM307 69h7v1h-7zM236 70h4v1h-4zM306 70h6v1h-6zM236 71h5v1h-5zM304 71h7v1h-7zM237 72h3v1h-3zM303 72h7v1h-7zM236 73h5v1h-5zM302 73h7v1h-7zM237 74h3v1h-3zM302 74h5v1h-5zM237 75h3v1h-3zM301 75h5v1h-5zM236 76h5v1h-5zM300 76h5v1h-5zM237 77h4v1h-4zM299 77h5v1h-5zM237 78h5v1h-5zM298 78h6v1h-6zM238 79h3v1h-3zM298 79h5v1h-5zM238 80h3v1h-3zM297 80h6v1h-6zM237 81h5v1h-5zM297 81h5v1h-5zM238 82h3v1h-3zM296 82h5v1h-5zM239 83h3v1h-3zM295 83h5v1h-5zM238 84h5v1h-5zM295 84h5v1h-5zM239 85h3v1h-3zM294 85h5v1h-5zM238 86h5v1h-5zM293 86h5v1h-5zM239 87h3v1h-3zM293 87h5v1h-5zM240 88h3v1h-3zM293 88h5v1h-5zM239 89h5v1h-5zM292 89h5v1h-5zM240 90h3v1h-3zM291 90h5v1h-5zM240 91h3v1h-3zM291 91h5v1h-5zM239 92h5v1h-5zM290 92h5v1h-5zM240 93h3v1h-3zM290 93h5v1h-5zM241 94h3v1h-3zM289 94h5v1h-5zM240 95h5v1h-5zM289 95h5v1h-5zM241 96h3v1h-3zM288 96h5v1h-5zM241 97h3v1h-3zM288 97h5v1h-5zM240 98h5v1h-5zM288 98h5v1h-5zM241 99h3v1h-3zM287 99h5v1h-5zM242 100h2v1h-2zM287 100h5v1h-5zM242 101h3v1h-3zM286 101h5v1h-5zM241 102h5v1h-5zM286 102h5v1h-5zM242 103h3v1h-3zM286 103h4v1h-4zM242 104h3v1h-3zM285 104h5v1h-5zM241 105h5v1h-5zM285 105h5v1h-5zM242 106h3v1h-3zM284 106h5v1h-5zM242 107h3v1h-3zM284 107h5v1h-5zM241 108h5v1h-5zM284 108h5v1h-5zM242 109h3v1h-3zM284 109h4v1h-4zM243 110h2v1h-2zM283 110h5v1h-5zM243 111h3v1h-3zM283 111h5v1h-5zM242 112h5v1h-5zM282 112h5v1h-5zM243 113h3v1h-3zM283 113h3v1h-3zM243 114h3v1h-3zM282 114h5v1h-5zM242 115h5v1h-5zM281 115h5v1h-5zM243 116h3v1h-3zM282 116h3v1h-3zM244 117h2v1h-2zM281 117h5v1h-5zM244 118h3v1h-3zM281 118h4v1h-4zM243 119h5v1h-5zM280 119h5v1h-5zM244 120h3v1h-3zM280 120h5v1h-5zM245 121h1v1h-1zM281 121h3v1h-3zM244 122h3v1h-3zM280 122h3v1h-3zM243 123h5v1h-5zM279 123h5v1h-5zM244 124h3v1h-3zM280 124h3v1h-3zM245 125h2v1h-2zM279 125h5v1h-5zM245 126h3v1h-3zM280 126h3v1h-3zM244 127h5v1h-5zM279 127h5v1h-5zM245 128h3v1h-3zM279 128h4v1h-4zM246 129h1v1h-1zM278 129h5v1h-5zM245 130h3v1h-3zM279 130h3v1h-3zM244 131h5v1h-5zM278 131h5v1h-5zM245 132h3v1h-3zM279 132h3v1h-3zM246 133h1v1h-1zM278 133h3v1h-3zM247 134h1v1h-1zM277 134h5v1h-5zM246 135h3v1h-3zM278 135h3v1h-3zM245 136h5v1h-5zM277 136h5v1h-5zM246 137h3v1h-3zM277 137h4v1h-4zM247 138h1v1h-1zM276 138h5v1h-5zM246 139h3v1h-3zM277 139h3v1h-3zM245 140h5v1h-5zM277 140h3v1h-3zM246 141h3v1h-3zM276 141h5v1h-5zM247 142h1v1h-1zM276 142h4v1h-4zM248 143h1v1h-1zM275 143h5v1h-5zM247 144h3v1h-3zM276 144h3v1h-3zM246 145h5v1h-5zM276 145h3v1h-3zM247 146h3v1h-3zM275 146h5v1h-5zM248 147h1v1h-1zM275 147h4v1h-4zM248 148h1v1h-1zM274 148h5v1h-5zM247 149h3v1h-3zM275 149h3v1h-3zM246 150h5v1h-5zM275 150h3v1h-3zM247 151h3v1h-3zM274 151h5v1h-5zM248 152h1v1h-1zM275 152h3v1h-3zM248 153h1v1h-1zM274 153h5v1h-5zM247 154h3v1h-3zM275 154h3v1h-3zM246 155h5v1h-5zM274 155h3v1h-3zM247 156h3v1h-3zM273 156h5v1h-5zM248 157h1v1h-1zM274 157h3v1h-3zM249 158h1v1h-1zM274 158h3v1h-3zM248 159h3v1h-3zM273 159h5v1h-5zM247 160h5v1h-5zM274 160h3v1h-3zM248 161h3v1h-3zM273 161h3v1h-3zM249 162h1v1h-1zM272 162h5v1h-5zM249 163h1v1h-1zM273 163h3v1h-3zM248 164h3v1h-3zM273 164h3v1h-3zM247 165h5v1h-5zM272 165h5v1h-5zM248 166h3v1h-3zM273 166h3v1h-3zM249 167h1v1h-1zM272 167h3v1h-3zM250 168h1v1h-1zM271 168h5v1h-5zM249 169h3v1h-3zM272 169h3v1h-3zM248 170h5v1h-5zM272 170h3v1h-3zM249 171h3v1h-3zM271 171h5v1h-5zM250 172h1v1h-1zM272 172h3v1h-3zM271 173h3v1h-3zM250 174h1v1h-1zM270 174h5v1h-5zM249 175h3v1h-3zM271 175h3v1h-3zM248 176h5v1h-5zM271 176h3v1h-3zM249 177h3v1h-3zM270 177h5v1h-5zM250 178h1v1h-1zM271 178h3v1h-3zM251 179h1v1h-1zM270 179h3v1h-3zM250 180h3v1h-3zM269 180h5v1h-5zM249 181h5v1h-5zM270 181h3v1h-3zM250 182h3v1h-3zM270 182h3v1h-3zM251 183h1v1h-1zM269 183h5v1h-5zM270 184h3v1h-3zM251 185h1v1h-1zM271 185h1v1h-1zM250 186h3v1h-3zM270 186h3v1h-3zM249 187h5v1h-5zM269 187h5v1h-5zM250 188h3v1h-3zM270 188h3v1h-3zM251 189h1v1h-1zM269 189h3v1h-3zM252 190h1v1h-1zM268 190h5v1h-5zM251 191h3v1h-3zM269 191h3v1h-3zM250 192h5v1h-5zM270 192h1v1h-1zM251 193h3v1h-3zM269 193h3v1h-3zM252 194h1v1h-1zM268 194h5v1h-5zM269 195h3v1h-3zM252 196h1v1h-1zM268 196h3v1h-3zM251 197h3v1h-3zM267 197h5v1h-5zM250 198h5v1h-5zM268 198h3v1h-3zM251 199h3v1h-3zM269 199h1v1h-1zM252 200h1v1h-1zM268 200h3v1h-3zM267 201h5v1h-5zM253 202h1v1h-1zM268 202h3v1h-3zM252 203h3v1h-3zM268 203h2v1h-2zM251 204h5v1h-5zM267 204h3v1h-3zM252 205h3v1h-3zM266 205h5v1h-5zM253 206h1v1h-1zM267 206h3v1h-3zM253 207h1v1h-1zM268 207h1v1h-1zM252 208h3v1h-3zM267 208h3v1h-3zM251 209h5v1h-5zM266 209h5v1h-5zM252 210h3v1h-3zM267 210h3v1h-3zM253 211h1v1h-1zM267 211h2v1h-2zM253 212h1v1h-1zM266 212h3v1h-3zM252 213h3v1h-3zM265 213h5v1h-5zM251 214h5v1h-5zM266 214h3v1h-3zM252 215h3v1h-3zM267 215h1v1h-1zM253 216h1v1h-1zM266 216h3v1h-3zM265 217h5v1h-5zM254 218h1v1h-1zM266 218h3v1h-3zM253 219h3v1h-3zM267 219h1v1h-1zM252 220h5v1h-5zM266 220h3v1h-3zM253 221h3v1h-3zM265 221h5v1h-5zM254 222h1v1h-1zM266 222h3v1h-3zM254 223h1v1h-1zM266 223h2v1h-2zM253 224h3v1h-3zM265 224h3v1h-3zM252 225h5v1h-5zM264 225h5v1h-5zM253 226h3v1h-3zM265 226h3v1h-3zM254 227h1v1h-1zM266 227h1v1h-1zM255 228h1v1h-1zM265 228h3v1h-3zM254 229h3v1h-3zM264 229h5v1h-5zM253 230h5v1h-5zM265 230h3v1h-3zM254 231h3v1h-3zM265 231h2v1h-2zM255 232h1v1h-1zM264 232h3v1h-3zM255 233h1v1h-1zM263 233h5v1h-5zM254 234h3v1h-3zM264 234h3v1h-3zM253 235h5v1h-5zM265 235h1v1h-1zM254 236h3v1h-3zM264 236h3v1h-3zM255 237h1v1h-1zM263 237h5v1h-5zM256 238h1v1h-1zM264 238h3v1h-3zM255 239h3v1h-3zM263 239h3v1h-3zM254 240h5v1h-5zM262 240h5v1h-5zM255 241h3v1h-3zM263 241h3v1h-3zM256 242h1v1h-1zM264 242h1v1h-1zM255 243h3v1h-3zM263 243h3v1h-3zM254 244h5v1h-5zM262 244h5v1h-5zM255 245h3v1h-3zM263 245h3v1h-3zM256 246h1v1h-1zM262 246h3v1h-3zM257 247h1v1h-1zM261 247h5v1h-5zM256 248h3v1h-3zM262 248h3v1h-3zM255 249h5v1h-5zM262 249h3v1h-3zM256 250h3v1h-3zM261 250h5v1h-5zM257 251h1v1h-1zM262 251h3v1h-3zM256 252h3v1h-3zM261 252h3v1h-3zM255 253h10v1h-10zM256 254h3v1h-3zM261 254h3v1h-3zM257 255h1v1h-1zM260 255h5v1h-5zM256 256h3v1h-3zM261 256h3v1h-3zM255 257h10v1h-10zM256 258h8v1h-8zM256 259h8v1h-8zM257 260h7v1h-7zM256 261h7v1h-7zM257 262h6v1h-6zM258 263h4v1h-4zM259 264h2v1h-2z"/>
</g>
<g shape-rendering="crispEdges" fill="#000">
<rect x="184.8" y="44.4" width="1675.8" height="3.8"/>
<rect x="184.8" y="1374.8" width="1675.8" height="3"/>
<rect x="184.8" y="44.4" width="4" height="1333.3999999999999"/>
<rect x="1856.6" y="44.4" width="4" height="1333.3999999999999"/>
<rect x="461.5" y="44.4" width="4" height="17.5"/>
<rect x="461.5" y="1355.8" width="4" height="22"/>
<rect x="741.4" y="44.4" width="4" height="17.5"/>
<rect x="741.4" y="1355.8" width="4" height="22"/>
<rect x="1022.6" y="44.4" width="4" height="17.5"/>
<rect x="1022.6" y="1355.8" width="4" height="22"/>
<rect x="1299.7" y="44.4" width="4" height="17.5"/>
<rect x="1299.7" y="1355.8" width="4" height="22"/>
<rect x="1579.5" y="44.4" width="4" height="17.5"/>
<rect x="1579.5" y="1355.8" width="4" height="22"/>
<rect x="1856.6" y="44.4" width="8.2" height="17.5"/>
<rect x="1856.6" y="1355.8" width="8.2" height="22"/>
<rect x="184.8" y="1237.9" width="17.5" height="3"/>
<rect x="1843.1" y="1237.9" width="17.5" height="3"/>
<rect x="184.8" y="1104.7" width="17.5" height="4"/>
<rect x="1843.1" y="1104.7" width="17.5" height="4"/>
<rect x="184.8" y="972.6" width="17.5" height="4"/>
<rect x="1843.1" y="972.6" width="17.5" height="4"/>
<rect x="184.8" y="839.5" width="17.5" height="4"/>
<rect x="1843.1" y="839.5" width="17.5" height="4"/>
<rect x="184.8" y="707.1" width="17.5" height="4"/>
<rect x="1843.1" y="707.1" width="17.5" height="4"/>
<rect x="184.8" y="574.6" width="17.5" height="3"/>
<rect x="1843.1" y="574.6" width="17.5" height="3"/>
<rect x="184.8" y="441.8" width="17.5" height="4"/>
<rect x="1843.1" y="441.8" width="17.5" height="4"/>
<rect x="184.8" y="309.3" width="17.5" height="3"/>
<rect x="1843.1" y="309.3" width="17.5" height="3"/>
<rect x="184.8" y="176.9" width="17.5" height="3"/>
<rect x="1843.1" y="176.9" width="17.5" height="3"/>
</g>
<g shape-rendering="crispEdges">
<rect x="321.2" y="973.2" width="195.6" height="10.6" fill="#0000ff"/>
<rect x="325.3" y="1038.7" width="195.6" height="7.3" fill="#000000"/>
<rect x="321.2" y="1109.3" width="195.6" height="10.6" fill="#ff0000"/>
<rect x="321.2" y="1183.7" width="195.6" height="6.8" fill="#00ff00"/>
<rect x="332" y="1245.4" width="195.6" height="10.8" fill="#00ffff"/>
</g>
<text class="lg" x="540" y="999" letter-spacing="0.2">d=20 nm</text>
<text class="lg" x="537.5" y="1064.8" letter-spacing="1.4">30 nm</text>
<text class="lg" x="537.5" y="1131" letter-spacing="1.4">40 nm</text>
<text class="lg" x="537.5" y="1197.2" letter-spacing="1.4">50 nm</text>
<text class="lg" x="537.5" y="1262.3" letter-spacing="1.4">60 nm</text>
<text class="tk" transform="translate(168.5 1392.5) scale(0.905 1)" text-anchor="end">0</text>
<text class="tk" transform="translate(168.5 1256.2) scale(0.905 1)" text-anchor="end">0.1</text>
<text class="tk" transform="translate(168.5 1123.5) scale(0.905 1)" text-anchor="end">0.2</text>
<text class="tk" transform="translate(168.5 991.4) scale(0.905 1)" text-anchor="end">0.3</text>
<text class="tk" transform="translate(168.5 858.3) scale(0.905 1)" text-anchor="end">0.4</text>
<text class="tk" transform="translate(168.5 725.9) scale(0.905 1)" text-anchor="end">0.5</text>
<text class="tk" transform="translate(168.5 592.9) scale(0.905 1)" text-anchor="end">0.6</text>
<text class="tk" transform="translate(168.5 460.6) scale(0.905 1)" text-anchor="end">0.7</text>
<text class="tk" transform="translate(168.5 327.6) scale(0.905 1)" text-anchor="end">0.8</text>
<text class="tk" transform="translate(168.5 195.2) scale(0.905 1)" text-anchor="end">0.9</text>
<text class="tk" transform="translate(168.5 61.9) scale(0.905 1)" text-anchor="end">1</text>
<text class="tk" transform="translate(183.3 1434.0) scale(0.905 1)" text-anchor="middle">40</text>
<text class="tk" transform="translate(460.0 1434.0) scale(0.905 1)" text-anchor="middle">42</text>
<text class="tk" transform="translate(739.9 1434.0) scale(0.905 1)" text-anchor="middle">44</text>
<text class="tk" transform="translate(1021.1 1434.0) scale(0.905 1)" text-anchor="middle">46</text>
<text class="tk" transform="translate(1298.2 1434.0) scale(0.905 1)" text-anchor="middle">48</text>
<text class="tk" transform="translate(1578.0 1434.0) scale(0.905 1)" text-anchor="middle">50</text>
<text class="tk" transform="translate(1858.0 1434.0) scale(0.905 1)" text-anchor="middle">52</text>
<text class="xl" transform="translate(1016.2 1504.3) scale(0.907 1)" text-anchor="middle">ANGLE (DEG)</text>
<text class="yl" transform="translate(91.0 1038.8) rotate(-90) scale(1 1.0)" x="-3.5 58.3 112.5 162.2 217.7 273.6 334.5 394.8 429 498.2 530.2 586.2">REFLECTIVITY</text>
</svg></body></html>
